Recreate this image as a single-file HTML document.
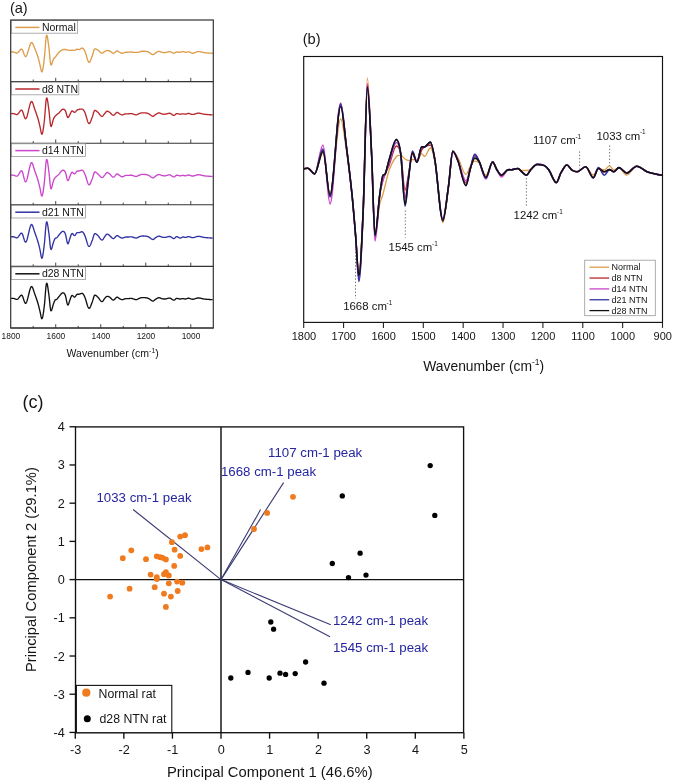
<!DOCTYPE html>
<html><head><meta charset="utf-8"><style>
html,body{margin:0;padding:0;background:#fff;}
body{width:675px;height:783px;overflow:hidden;font-family:"Liberation Sans",sans-serif;}
svg{display:block;will-change:transform;}
</style></head><body>
<svg width="675" height="783" viewBox="0 0 675 783" style="font-family:'Liberation Sans',sans-serif">
<rect width="675" height="783" fill="#fff"/>
<text x="9.9" y="12.9" font-size="14.6" fill="#151515">(a)</text>
<path d="M10.87 52.04 11.12 52.03 11.37 52.01 11.62 52 11.87 51.98 12.12 51.97 12.37 51.95 12.62 51.94 12.87 51.94 13.12 51.94 13.37 51.96 13.62 52 13.87 52.05 14.12 52.13 14.37 52.22 14.62 52.32 14.87 52.42 15.12 52.53 15.37 52.63 15.62 52.73 15.87 52.82 16.12 52.9 16.37 52.96 16.62 52.99 16.87 53 17.12 52.96 17.37 52.88 17.62 52.74 17.87 52.56 18.12 52.34 18.37 52.08 18.62 51.8 18.87 51.5 19.12 51.19 19.37 50.88 19.62 50.57 19.87 50.27 20.12 49.98 20.37 49.72 20.62 49.5 20.87 49.31 21.12 49.17 21.37 49.08 21.62 49.08 21.87 49.19 22.12 49.43 22.37 49.8 22.62 50.28 22.87 50.86 23.12 51.51 23.37 52.2 23.62 52.91 23.87 53.62 24.12 54.31 24.37 54.95 24.62 55.51 24.87 55.98 25.12 56.33 25.37 56.54 25.62 56.6 25.87 56.52 26.12 56.3 26.37 55.95 26.62 55.5 26.87 54.95 27.12 54.32 27.37 53.62 27.62 52.86 27.87 52.05 28.12 51.2 28.37 50.33 28.62 49.45 28.87 48.58 29.12 47.72 29.37 46.88 29.62 46.08 29.87 45.33 30.12 44.65 30.37 44.04 30.62 43.51 30.87 43.09 31.12 42.78 31.37 42.59 31.62 42.53 31.87 42.6 32.12 42.78 32.37 43.07 32.62 43.45 32.87 43.91 33.12 44.43 33.37 45 33.62 45.61 33.87 46.23 34.12 46.86 34.37 47.48 34.62 48.09 34.87 48.68 35.12 49.27 35.37 49.87 35.62 50.47 35.87 51.09 36.12 51.73 36.37 52.39 36.62 53.06 36.87 53.75 37.12 54.45 37.37 55.18 37.62 55.94 37.87 56.73 38.12 57.56 38.37 58.45 38.62 59.39 38.87 60.38 39.12 61.39 39.37 62.41 39.62 63.44 39.87 64.47 40.12 65.55 40.37 66.71 40.62 67.92 40.87 69.12 41.12 70.21 41.37 71.08 41.62 71.65 41.87 71.85 42.12 71.64 42.37 71.05 42.62 70.13 42.87 68.92 43.12 67.48 43.37 65.84 43.62 64.05 43.87 62.15 44.12 60.13 44.37 57.89 44.62 55.29 44.87 52.31 45.12 49.06 45.37 45.74 45.62 42.54 45.87 39.69 46.12 37.4 46.37 35.85 46.62 35.12 46.87 35.14 47.12 35.75 47.37 36.79 47.62 38.17 47.87 39.8 48.12 41.61 48.37 43.52 48.62 45.47 48.87 47.47 49.12 49.6 49.37 52.01 49.62 54.68 49.87 57.45 50.12 60.09 50.37 62.33 50.62 63.95 50.87 64.83 51.12 65.07 51.37 64.87 51.62 64.42 51.87 63.81 52.12 63.1 52.37 62.33 52.62 61.53 52.87 60.76 53.12 60.04 53.37 59.43 53.62 58.92 53.87 58.53 54.12 58.23 54.37 57.98 54.62 57.75 54.87 57.52 55.12 57.26 55.37 56.96 55.62 56.65 55.87 56.32 56.12 55.98 56.37 55.65 56.62 55.31 56.87 54.97 57.12 54.62 57.37 54.26 57.62 53.9 57.87 53.54 58.12 53.21 58.37 52.89 58.62 52.6 58.87 52.34 59.12 52.11 59.37 51.9 59.62 51.7 59.87 51.5 60.12 51.32 60.37 51.14 60.62 50.97 60.87 50.8 61.12 50.64 61.37 50.49 61.62 50.35 61.87 50.21 62.12 50.08 62.37 49.95 62.62 49.84 62.87 49.73 63.12 49.63 63.37 49.56 63.62 49.5 63.87 49.47 64.12 49.45 64.37 49.45 64.62 49.46 64.87 49.46 65.12 49.47 65.37 49.48 65.62 49.5 65.87 49.54 66.12 49.6 66.37 49.66 66.62 49.75 66.87 49.83 67.12 49.92 67.37 50 67.62 50.08 67.87 50.15 68.12 50.21 68.37 50.26 68.62 50.31 68.87 50.36 69.12 50.4 69.37 50.42 69.62 50.43 69.87 50.43 70.12 50.42 70.37 50.4 70.62 50.37 70.87 50.35 71.12 50.32 71.37 50.29 71.62 50.27 71.87 50.26 72.12 50.26 72.37 50.26 72.62 50.28 72.87 50.29 73.12 50.31 73.37 50.34 73.62 50.36 73.87 50.38 74.12 50.39 74.37 50.39 74.62 50.37 74.87 50.31 75.12 50.22 75.37 50.09 75.62 49.94 75.87 49.77 76.12 49.61 76.37 49.45 76.62 49.32 76.87 49.23 77.12 49.18 77.37 49.18 77.62 49.24 77.87 49.33 78.12 49.43 78.37 49.53 78.62 49.6 78.87 49.63 79.12 49.61 79.37 49.53 79.62 49.42 79.87 49.27 80.12 49.1 80.37 48.92 80.62 48.74 80.87 48.56 81.12 48.4 81.37 48.26 81.62 48.15 81.87 48.09 82.12 48.07 82.37 48.11 82.62 48.2 82.87 48.34 83.12 48.53 83.37 48.76 83.62 49.05 83.87 49.38 84.12 49.76 84.37 50.18 84.62 50.66 84.87 51.19 85.12 51.79 85.37 52.47 85.62 53.23 85.87 54.04 86.12 54.89 86.37 55.76 86.62 56.64 86.87 57.51 87.12 58.36 87.37 59.17 87.62 59.92 87.87 60.59 88.12 61.18 88.37 61.66 88.62 62.02 88.87 62.24 89.12 62.32 89.37 62.26 89.62 62.06 89.87 61.75 90.12 61.33 90.37 60.83 90.62 60.26 90.87 59.64 91.12 58.98 91.37 58.3 91.62 57.62 91.87 56.94 92.12 56.27 92.37 55.58 92.62 54.83 92.87 54 93.12 53.1 93.37 52.18 93.62 51.29 93.87 50.48 94.12 49.8 94.37 49.3 94.62 49 94.87 48.87 95.12 48.85 95.37 48.89 95.62 48.95 95.87 49.03 96.12 49.12 96.37 49.23 96.62 49.35 96.87 49.48 97.12 49.61 97.37 49.75 97.62 49.9 97.87 50.06 98.12 50.24 98.37 50.43 98.62 50.64 98.87 50.86 99.12 51.09 99.37 51.33 99.62 51.57 99.87 51.81 100.12 52.03 100.37 52.25 100.62 52.45 100.87 52.63 101.12 52.79 101.37 52.92 101.62 53.01 101.87 53.07 102.12 53.09 102.37 53.06 102.62 52.97 102.87 52.84 103.12 52.68 103.37 52.49 103.62 52.28 103.87 52.08 104.12 51.88 104.37 51.7 104.62 51.54 104.87 51.4 105.12 51.26 105.37 51.14 105.62 51.01 105.87 50.9 106.12 50.79 106.37 50.71 106.62 50.64 106.87 50.59 107.12 50.57 107.37 50.56 107.62 50.57 107.87 50.57 108.12 50.59 108.37 50.61 108.62 50.64 108.87 50.69 109.12 50.75 109.37 50.82 109.62 50.92 109.87 51.04 110.12 51.19 110.37 51.36 110.62 51.55 110.87 51.75 111.12 51.96 111.37 52.17 111.62 52.37 111.87 52.57 112.12 52.75 112.37 52.92 112.62 53.05 112.87 53.16 113.12 53.22 113.37 53.24 113.62 53.22 113.87 53.14 114.12 53.02 114.37 52.87 114.62 52.68 114.87 52.47 115.12 52.25 115.37 52.02 115.62 51.79 115.87 51.58 116.12 51.39 116.37 51.22 116.62 51.09 116.87 51 117.12 50.97 117.37 50.98 117.62 51.04 117.87 51.15 118.12 51.28 118.37 51.44 118.62 51.61 118.87 51.79 119.12 51.96 119.37 52.12 119.62 52.26 119.87 52.39 120.12 52.52 120.37 52.65 120.62 52.78 120.87 52.9 121.12 53.01 121.37 53.11 121.62 53.18 121.87 53.23 122.12 53.26 122.37 53.25 122.62 53.23 122.87 53.18 123.12 53.11 123.37 53.03 123.62 52.94 123.87 52.84 124.12 52.74 124.37 52.64 124.62 52.54 124.87 52.46 125.12 52.38 125.37 52.32 125.62 52.27 125.87 52.24 126.12 52.22 126.37 52.21 126.62 52.21 126.87 52.21 127.12 52.22 127.37 52.22 127.62 52.22 127.87 52.22 128.12 52.21 128.37 52.2 128.62 52.18 128.87 52.16 129.12 52.14 129.37 52.11 129.62 52.09 129.87 52.07 130.12 52.05 130.37 52.03 130.62 52.01 130.87 52 131.12 52 131.37 52 131.62 52.01 131.87 52.04 132.12 52.08 132.37 52.13 132.62 52.19 132.87 52.24 133.12 52.29 133.37 52.33 133.62 52.35 133.87 52.37 134.12 52.37 134.37 52.37 134.62 52.37 134.87 52.37 135.12 52.37 135.37 52.37 135.62 52.37 135.87 52.37 136.12 52.37 136.37 52.37 136.62 52.37 136.87 52.36 137.12 52.35 137.37 52.33 137.62 52.31 137.87 52.29 138.12 52.26 138.37 52.22 138.62 52.18 138.87 52.13 139.12 52.07 139.37 52 139.62 51.92 139.87 51.83 140.12 51.74 140.37 51.64 140.62 51.55 140.87 51.46 141.12 51.39 141.37 51.32 141.62 51.26 141.87 51.23 142.12 51.21 142.37 51.2 142.62 51.2 142.87 51.2 143.12 51.2 143.37 51.2 143.62 51.21 143.87 51.22 144.12 51.22 144.37 51.24 144.62 51.25 144.87 51.26 145.12 51.28 145.37 51.31 145.62 51.33 145.87 51.36 146.12 51.4 146.37 51.44 146.62 51.48 146.87 51.54 147.12 51.6 147.37 51.68 147.62 51.76 147.87 51.85 148.12 51.94 148.37 52.05 148.62 52.16 148.87 52.28 149.12 52.42 149.37 52.57 149.62 52.73 149.87 52.91 150.12 53.1 150.37 53.29 150.62 53.48 150.87 53.67 151.12 53.86 151.37 54.03 151.62 54.19 151.87 54.34 152.12 54.46 152.37 54.56 152.62 54.63 152.87 54.67 153.12 54.67 153.37 54.61 153.62 54.5 153.87 54.34 154.12 54.15 154.37 53.93 154.62 53.7 154.87 53.47 155.12 53.24 155.37 53.04 155.62 52.86 155.87 52.7 156.12 52.55 156.37 52.4 156.62 52.24 156.87 52.1 157.12 51.95 157.37 51.82 157.62 51.7 157.87 51.59 158.12 51.49 158.37 51.42 158.62 51.37 158.87 51.34 159.12 51.34 159.37 51.36 159.62 51.42 159.87 51.49 160.12 51.58 160.37 51.69 160.62 51.8 160.87 51.91 161.12 52.02 161.37 52.12 161.62 52.21 161.87 52.28 162.12 52.34 162.37 52.39 162.62 52.44 162.87 52.48 163.12 52.51 163.37 52.54 163.62 52.57 163.87 52.59 164.12 52.6 164.37 52.61 164.62 52.62 164.87 52.61 165.12 52.6 165.37 52.57 165.62 52.54 165.87 52.49 166.12 52.43 166.37 52.37 166.62 52.3 166.87 52.23 167.12 52.15 167.37 52.08 167.62 52 167.87 51.93 168.12 51.87 168.37 51.81 168.62 51.75 168.87 51.71 169.12 51.68 169.37 51.66 169.62 51.66 169.87 51.68 170.12 51.72 170.37 51.79 170.62 51.88 170.87 51.99 171.12 52.11 171.37 52.24 171.62 52.37 171.87 52.51 172.12 52.64 172.37 52.77 172.62 52.89 172.87 53 173.12 53.09 173.37 53.16 173.62 53.2 173.87 53.21 174.12 53.19 174.37 53.12 174.62 53.02 174.87 52.88 175.12 52.74 175.37 52.58 175.62 52.42 175.87 52.28 176.12 52.15 176.37 52.06 176.62 52.01 176.87 51.98 177.12 51.99 177.37 52 177.62 52.02 177.87 52.05 178.12 52.08 178.37 52.11 178.62 52.15 178.87 52.18 179.12 52.21 179.37 52.23 179.62 52.25 179.87 52.26 180.12 52.26 180.37 52.24 180.62 52.2 180.87 52.14 181.12 52.06 181.37 51.96 181.62 51.86 181.87 51.77 182.12 51.68 182.37 51.6 182.62 51.55 182.87 51.52 183.12 51.52 183.37 51.56 183.62 51.63 183.87 51.72 184.12 51.83 184.37 51.95 184.62 52.06 184.87 52.15 185.12 52.21 185.37 52.25 185.62 52.26 185.87 52.24 186.12 52.2 186.37 52.16 186.62 52.1 186.87 52.05 187.12 51.99 187.37 51.94 187.62 51.89 187.87 51.85 188.12 51.83 188.37 51.83 188.62 51.85 188.87 51.89 189.12 51.96 189.37 52.04 189.62 52.13 189.87 52.24 190.12 52.36 190.37 52.48 190.62 52.6 190.87 52.72 191.12 52.83 191.37 52.94 191.62 53.03 191.87 53.11 192.12 53.17 192.37 53.21 192.62 53.23 192.87 53.22 193.12 53.2 193.37 53.16 193.62 53.1 193.87 53.04 194.12 52.96 194.37 52.87 194.62 52.77 194.87 52.67 195.12 52.57 195.37 52.46 195.62 52.35 195.87 52.24 196.12 52.13 196.37 52.03 196.62 51.93 196.87 51.84 197.12 51.76 197.37 51.7 197.62 51.64 197.87 51.59 198.12 51.57 198.37 51.55 198.62 51.55 198.87 51.57 199.12 51.59 199.37 51.61 199.62 51.65 199.87 51.69 200.12 51.73 200.37 51.78 200.62 51.83 200.87 51.89 201.12 51.95 201.37 52.01 201.62 52.07 201.87 52.14 202.12 52.2 202.37 52.26 202.62 52.32 202.87 52.38 203.12 52.44 203.37 52.49 203.62 52.54 203.87 52.58 204.12 52.62 204.37 52.65 204.62 52.69 204.87 52.72 205.12 52.74 205.37 52.77 205.62 52.8 205.87 52.82 206.12 52.84 206.37 52.87 206.62 52.89 206.87 52.91 207.12 52.93 207.37 52.94 207.62 52.96 207.87 52.98 208.12 53 208.37 53.02 208.62 53.03 208.87 53.05 209.12 53.07 209.37 53.09 209.62 53.11 209.87 53.13 210.12 53.14 210.37 53.16 210.62 53.18 210.87 53.19 211.12 53.21 211.37 53.22 211.62 53.24 211.87 53.25 212.12 53.26 212.37 53.28 212.62 53.29" fill="none" stroke="#DD9D4A" stroke-width="1.35" stroke-linejoin="round"/>
<line x1="33.21" y1="81.6" x2="33.21" y2="79.5" stroke="#333" stroke-width="0.9"/>
<line x1="55.72" y1="81.6" x2="55.72" y2="77.8" stroke="#333" stroke-width="0.9"/>
<line x1="78.23" y1="81.6" x2="78.23" y2="79.5" stroke="#333" stroke-width="0.9"/>
<line x1="100.74" y1="81.6" x2="100.74" y2="77.8" stroke="#333" stroke-width="0.9"/>
<line x1="123.25" y1="81.6" x2="123.25" y2="79.5" stroke="#333" stroke-width="0.9"/>
<line x1="145.76" y1="81.6" x2="145.76" y2="77.8" stroke="#333" stroke-width="0.9"/>
<line x1="168.27" y1="81.6" x2="168.27" y2="79.5" stroke="#333" stroke-width="0.9"/>
<line x1="190.78" y1="81.6" x2="190.78" y2="77.8" stroke="#333" stroke-width="0.9"/>
<rect x="11.2" y="20.6" width="66.4" height="12.6" fill="#fff" stroke="#999" stroke-width="0.8"/>
<line x1="15.3" y1="27.4" x2="39.5" y2="27.4" stroke="#DD9D4A" stroke-width="1.5"/>
<text x="41.9" y="31" font-size="10.5" fill="#151515">Normal</text>
<line x1="10.7" y1="81.6" x2="213.3" y2="81.6" stroke="#333" stroke-width="1.1"/>
<path d="M10.87 113.64 11.12 113.63 11.37 113.61 11.62 113.6 11.87 113.58 12.12 113.57 12.37 113.55 12.62 113.54 12.87 113.54 13.12 113.54 13.37 113.56 13.62 113.6 13.87 113.65 14.12 113.73 14.37 113.82 14.62 113.92 14.87 114.02 15.12 114.13 15.37 114.23 15.62 114.33 15.87 114.42 16.12 114.5 16.37 114.56 16.62 114.59 16.87 114.6 17.12 114.55 17.37 114.46 17.62 114.3 17.87 114.09 18.12 113.84 18.37 113.55 18.62 113.23 18.87 112.88 19.12 112.53 19.37 112.17 19.62 111.81 19.87 111.47 20.12 111.15 20.37 110.85 20.62 110.59 20.87 110.37 21.12 110.21 21.37 110.12 21.62 110.11 21.87 110.24 22.12 110.51 22.37 110.94 22.62 111.49 22.87 112.16 23.12 112.9 23.37 113.7 23.62 114.52 23.87 115.34 24.12 116.13 24.37 116.86 24.62 117.51 24.87 118.05 25.12 118.45 25.37 118.69 25.62 118.76 25.87 118.65 26.12 118.38 26.37 117.96 26.62 117.4 26.87 116.73 27.12 115.95 27.37 115.09 27.62 114.15 27.87 113.15 28.12 112.11 28.37 111.05 28.62 109.97 28.87 108.89 29.12 107.83 29.37 106.8 29.62 105.82 29.87 104.9 30.12 104.05 30.37 103.3 30.62 102.66 30.87 102.14 31.12 101.76 31.37 101.53 31.62 101.46 31.87 101.56 32.12 101.81 32.37 102.22 32.62 102.74 32.87 103.37 33.12 104.07 33.37 104.84 33.62 105.64 33.87 106.45 34.12 107.26 34.37 108.05 34.62 108.8 34.87 109.51 35.12 110.2 35.37 110.89 35.62 111.58 35.87 112.27 36.12 112.98 36.37 113.69 36.62 114.42 36.87 115.16 37.12 115.92 37.37 116.69 37.62 117.49 37.87 118.31 38.12 119.17 38.37 120.06 38.62 121 38.87 121.97 39.12 122.97 39.37 123.98 39.62 125.01 39.87 126.08 40.12 127.21 40.37 128.46 40.62 129.79 40.87 131.12 41.12 132.33 41.37 133.32 41.62 133.97 41.87 134.2 42.12 134.02 42.37 133.46 42.62 132.56 42.87 131.38 43.12 129.97 43.37 128.37 43.62 126.61 43.87 124.75 44.12 122.76 44.37 120.54 44.62 117.96 44.87 115 45.12 111.77 45.37 108.45 45.62 105.27 45.87 102.43 46.12 100.15 46.37 98.61 46.62 97.87 46.87 97.89 47.12 98.49 47.37 99.51 47.62 100.87 47.87 102.46 48.12 104.23 48.37 106.09 48.62 107.98 48.87 109.91 49.12 111.95 49.37 114.23 49.62 116.75 49.87 119.36 50.12 121.83 50.37 123.93 50.62 125.44 50.87 126.25 51.12 126.43 51.37 126.16 51.62 125.6 51.87 124.85 52.12 123.97 52.37 123 52.62 122.01 52.87 121.04 53.12 120.14 53.37 119.35 53.62 118.68 53.87 118.12 54.12 117.66 54.37 117.25 54.62 116.89 54.87 116.56 55.12 116.24 55.37 115.93 55.62 115.65 55.87 115.39 56.12 115.15 56.37 114.92 56.62 114.7 56.87 114.49 57.12 114.29 57.37 114.1 57.62 113.91 57.87 113.72 58.12 113.54 58.37 113.35 58.62 113.15 58.87 112.94 59.12 112.71 59.37 112.47 59.62 112.2 59.87 111.92 60.12 111.62 60.37 111.33 60.62 111.03 60.87 110.74 61.12 110.46 61.37 110.2 61.62 109.96 61.87 109.75 62.12 109.57 62.37 109.43 62.62 109.33 62.87 109.28 63.12 109.26 63.37 109.27 63.62 109.3 63.87 109.36 64.12 109.45 64.37 109.59 64.62 109.78 64.87 110.02 65.12 110.35 65.37 110.77 65.62 111.32 65.87 112.02 66.12 112.84 66.37 113.75 66.62 114.67 66.87 115.55 67.12 116.34 67.37 116.96 67.62 117.38 67.87 117.56 68.12 117.53 68.37 117.32 68.62 116.98 68.87 116.56 69.12 116.09 69.37 115.61 69.62 115.14 69.87 114.65 70.12 114.13 70.37 113.57 70.62 112.99 70.87 112.43 71.12 111.92 71.37 111.48 71.62 111.15 71.87 110.94 72.12 110.87 72.37 110.92 72.62 111.04 72.87 111.21 73.12 111.42 73.37 111.64 73.62 111.85 73.87 112.04 74.12 112.18 74.37 112.26 74.62 112.27 74.87 112.2 75.12 112.07 75.37 111.89 75.62 111.66 75.87 111.4 76.12 111.12 76.37 110.84 76.62 110.58 76.87 110.33 77.12 110.12 77.37 109.95 77.62 109.81 77.87 109.7 78.12 109.61 78.37 109.54 78.62 109.47 78.87 109.42 79.12 109.37 79.37 109.32 79.62 109.28 79.87 109.24 80.12 109.2 80.37 109.17 80.62 109.14 80.87 109.11 81.12 109.09 81.37 109.08 81.62 109.07 81.87 109.06 82.12 109.08 82.37 109.14 82.62 109.25 82.87 109.41 83.12 109.62 83.37 109.89 83.62 110.21 83.87 110.57 84.12 110.98 84.37 111.43 84.62 111.92 84.87 112.46 85.12 113.07 85.37 113.76 85.62 114.52 85.87 115.33 86.12 116.19 86.37 117.06 86.62 117.94 86.87 118.81 87.12 119.66 87.37 120.47 87.62 121.22 87.87 121.89 88.12 122.48 88.37 122.95 88.62 123.31 88.87 123.53 89.12 123.61 89.37 123.55 89.62 123.35 89.87 123.03 90.12 122.61 90.37 122.1 90.62 121.53 90.87 120.9 91.12 120.24 91.37 119.55 91.62 118.86 91.87 118.18 92.12 117.52 92.37 116.84 92.62 116.1 92.87 115.3 93.12 114.42 93.37 113.53 93.62 112.67 93.87 111.88 94.12 111.23 94.37 110.74 94.62 110.46 94.87 110.35 95.12 110.35 95.37 110.43 95.62 110.54 95.87 110.68 96.12 110.85 96.37 111.04 96.62 111.24 96.87 111.45 97.12 111.67 97.37 111.89 97.62 112.11 97.87 112.33 98.12 112.58 98.37 112.84 98.62 113.12 98.87 113.42 99.12 113.73 99.37 114.05 99.62 114.36 99.87 114.67 100.12 114.97 100.37 115.25 100.62 115.51 100.87 115.75 101.12 115.95 101.37 116.12 101.62 116.24 101.87 116.32 102.12 116.33 102.37 116.27 102.62 116.13 102.87 115.92 103.12 115.65 103.37 115.33 103.62 114.98 103.87 114.63 104.12 114.28 104.37 113.95 104.62 113.64 104.87 113.34 105.12 113.04 105.37 112.73 105.62 112.41 105.87 112.11 106.12 111.83 106.37 111.59 106.62 111.41 106.87 111.28 107.12 111.22 107.37 111.22 107.62 111.25 107.87 111.32 108.12 111.42 108.37 111.53 108.62 111.66 108.87 111.8 109.12 111.96 109.37 112.12 109.62 112.29 109.87 112.47 110.12 112.68 110.37 112.91 110.62 113.15 110.87 113.41 111.12 113.68 111.37 113.94 111.62 114.2 111.87 114.44 112.12 114.67 112.37 114.86 112.62 115.03 112.87 115.15 113.12 115.23 113.37 115.26 113.62 115.23 113.87 115.13 114.12 114.98 114.37 114.78 114.62 114.54 114.87 114.27 115.12 113.99 115.37 113.7 115.62 113.42 115.87 113.15 116.12 112.9 116.37 112.69 116.62 112.52 116.87 112.41 117.12 112.36 117.37 112.38 117.62 112.45 117.87 112.58 118.12 112.73 118.37 112.92 118.62 113.12 118.87 113.32 119.12 113.52 119.37 113.69 119.62 113.85 119.87 113.99 120.12 114.13 120.37 114.26 120.62 114.39 120.87 114.51 121.12 114.62 121.37 114.72 121.62 114.79 121.87 114.84 122.12 114.86 122.37 114.86 122.62 114.83 122.87 114.78 123.12 114.71 123.37 114.63 123.62 114.54 123.87 114.44 124.12 114.34 124.37 114.24 124.62 114.14 124.87 114.06 125.12 113.98 125.37 113.92 125.62 113.87 125.87 113.84 126.12 113.82 126.37 113.81 126.62 113.81 126.87 113.81 127.12 113.82 127.37 113.82 127.62 113.82 127.87 113.82 128.12 113.81 128.37 113.8 128.62 113.78 128.87 113.76 129.12 113.74 129.37 113.71 129.62 113.69 129.87 113.67 130.12 113.65 130.37 113.63 130.62 113.61 130.87 113.6 131.12 113.6 131.37 113.6 131.62 113.62 131.87 113.66 132.12 113.72 132.37 113.79 132.62 113.87 132.87 113.97 133.12 114.06 133.37 114.15 133.62 114.23 133.87 114.31 134.12 114.39 134.37 114.46 134.62 114.54 134.87 114.62 135.12 114.69 135.37 114.76 135.62 114.81 135.87 114.85 136.12 114.86 136.37 114.85 136.62 114.8 136.87 114.73 137.12 114.62 137.37 114.5 137.62 114.37 137.87 114.23 138.12 114.09 138.37 113.96 138.62 113.85 138.87 113.74 139.12 113.64 139.37 113.55 139.62 113.46 139.87 113.36 140.12 113.27 140.37 113.18 140.62 113.09 140.87 113.02 141.12 112.95 141.37 112.89 141.62 112.85 141.87 112.82 142.12 112.8 142.37 112.8 142.62 112.8 142.87 112.8 143.12 112.8 143.37 112.8 143.62 112.81 143.87 112.82 144.12 112.82 144.37 112.84 144.62 112.85 144.87 112.86 145.12 112.88 145.37 112.91 145.62 112.93 145.87 112.96 146.12 113 146.37 113.04 146.62 113.08 146.87 113.14 147.12 113.2 147.37 113.28 147.62 113.36 147.87 113.45 148.12 113.54 148.37 113.65 148.62 113.76 148.87 113.88 149.12 114.02 149.37 114.17 149.62 114.33 149.87 114.51 150.12 114.7 150.37 114.89 150.62 115.08 150.87 115.27 151.12 115.46 151.37 115.63 151.62 115.79 151.87 115.94 152.12 116.06 152.37 116.16 152.62 116.23 152.87 116.27 153.12 116.27 153.37 116.21 153.62 116.1 153.87 115.94 154.12 115.75 154.37 115.53 154.62 115.3 154.87 115.07 155.12 114.84 155.37 114.64 155.62 114.46 155.87 114.3 156.12 114.15 156.37 114 156.62 113.84 156.87 113.7 157.12 113.55 157.37 113.42 157.62 113.3 157.87 113.19 158.12 113.09 158.37 113.02 158.62 112.97 158.87 112.94 159.12 112.94 159.37 112.96 159.62 113.02 159.87 113.09 160.12 113.18 160.37 113.29 160.62 113.4 160.87 113.51 161.12 113.62 161.37 113.72 161.62 113.81 161.87 113.88 162.12 113.94 162.37 113.99 162.62 114.04 162.87 114.08 163.12 114.11 163.37 114.14 163.62 114.17 163.87 114.19 164.12 114.2 164.37 114.21 164.62 114.22 164.87 114.21 165.12 114.2 165.37 114.17 165.62 114.14 165.87 114.09 166.12 114.03 166.37 113.97 166.62 113.9 166.87 113.83 167.12 113.75 167.37 113.68 167.62 113.6 167.87 113.53 168.12 113.47 168.37 113.41 168.62 113.35 168.87 113.31 169.12 113.28 169.37 113.26 169.62 113.26 169.87 113.29 170.12 113.35 170.37 113.44 170.62 113.56 170.87 113.7 171.12 113.86 171.37 114.04 171.62 114.22 171.87 114.4 172.12 114.58 172.37 114.76 172.62 114.92 172.87 115.06 173.12 115.18 173.37 115.27 173.62 115.33 173.87 115.34 174.12 115.3 174.37 115.21 174.62 115.06 174.87 114.87 175.12 114.66 175.37 114.44 175.62 114.21 175.87 114.01 176.12 113.83 176.37 113.7 176.62 113.62 176.87 113.6 177.12 113.6 177.37 113.63 177.62 113.68 177.87 113.74 178.12 113.8 178.37 113.87 178.62 113.94 178.87 114.01 179.12 114.07 179.37 114.13 179.62 114.17 179.87 114.2 180.12 114.21 180.37 114.21 180.62 114.18 180.87 114.15 181.12 114.11 181.37 114.06 181.62 114 181.87 113.95 182.12 113.9 182.37 113.86 182.62 113.83 182.87 113.82 183.12 113.82 183.37 113.84 183.62 113.88 183.87 113.93 184.12 113.99 184.37 114.05 184.62 114.11 184.87 114.16 185.12 114.19 185.37 114.2 185.62 114.19 185.87 114.16 186.12 114.09 186.37 114.01 186.62 113.92 186.87 113.82 187.12 113.72 187.37 113.63 187.62 113.55 187.87 113.48 188.12 113.44 188.37 113.43 188.62 113.44 188.87 113.47 189.12 113.52 189.37 113.58 189.62 113.65 189.87 113.73 190.12 113.81 190.37 113.9 190.62 113.99 190.87 114.07 191.12 114.16 191.37 114.23 191.62 114.3 191.87 114.36 192.12 114.4 192.37 114.43 192.62 114.44 192.87 114.44 193.12 114.42 193.37 114.39 193.62 114.35 193.87 114.3 194.12 114.24 194.37 114.17 194.62 114.09 194.87 114.02 195.12 113.93 195.37 113.85 195.62 113.77 195.87 113.68 196.12 113.6 196.37 113.52 196.62 113.45 196.87 113.38 197.12 113.31 197.37 113.26 197.62 113.22 197.87 113.18 198.12 113.16 198.37 113.15 198.62 113.15 198.87 113.17 199.12 113.19 199.37 113.21 199.62 113.25 199.87 113.29 200.12 113.33 200.37 113.38 200.62 113.43 200.87 113.49 201.12 113.55 201.37 113.61 201.62 113.67 201.87 113.74 202.12 113.8 202.37 113.86 202.62 113.92 202.87 113.98 203.12 114.04 203.37 114.09 203.62 114.14 203.87 114.18 204.12 114.22 204.37 114.25 204.62 114.29 204.87 114.32 205.12 114.34 205.37 114.37 205.62 114.4 205.87 114.42 206.12 114.44 206.37 114.47 206.62 114.49 206.87 114.51 207.12 114.53 207.37 114.54 207.62 114.56 207.87 114.58 208.12 114.6 208.37 114.62 208.62 114.63 208.87 114.65 209.12 114.67 209.37 114.69 209.62 114.71 209.87 114.73 210.12 114.74 210.37 114.76 210.62 114.78 210.87 114.79 211.12 114.81 211.37 114.82 211.62 114.84 211.87 114.85 212.12 114.86 212.37 114.88 212.62 114.89" fill="none" stroke="#B8282C" stroke-width="1.35" stroke-linejoin="round"/>
<line x1="33.21" y1="143.2" x2="33.21" y2="141.1" stroke="#333" stroke-width="0.9"/>
<line x1="55.72" y1="143.2" x2="55.72" y2="139.4" stroke="#333" stroke-width="0.9"/>
<line x1="78.23" y1="143.2" x2="78.23" y2="141.1" stroke="#333" stroke-width="0.9"/>
<line x1="100.74" y1="143.2" x2="100.74" y2="139.4" stroke="#333" stroke-width="0.9"/>
<line x1="123.25" y1="143.2" x2="123.25" y2="141.1" stroke="#333" stroke-width="0.9"/>
<line x1="145.76" y1="143.2" x2="145.76" y2="139.4" stroke="#333" stroke-width="0.9"/>
<line x1="168.27" y1="143.2" x2="168.27" y2="141.1" stroke="#333" stroke-width="0.9"/>
<line x1="190.78" y1="143.2" x2="190.78" y2="139.4" stroke="#333" stroke-width="0.9"/>
<rect x="11.2" y="82.2" width="67.6" height="12.6" fill="#fff" stroke="#999" stroke-width="0.8"/>
<line x1="15.3" y1="89" x2="39.5" y2="89" stroke="#B8282C" stroke-width="1.5"/>
<text x="41.9" y="92.6" font-size="10.5" fill="#151515">d8 NTN</text>
<line x1="10.7" y1="143.2" x2="213.3" y2="143.2" stroke="#333" stroke-width="1.1"/>
<path d="M10.87 175.24 11.12 175.23 11.37 175.21 11.62 175.2 11.87 175.18 12.12 175.17 12.37 175.15 12.62 175.14 12.87 175.14 13.12 175.14 13.37 175.16 13.62 175.2 13.87 175.25 14.12 175.33 14.37 175.42 14.62 175.52 14.87 175.62 15.12 175.73 15.37 175.83 15.62 175.93 15.87 176.02 16.12 176.1 16.37 176.16 16.62 176.19 16.87 176.19 17.12 176.14 17.37 176.02 17.62 175.83 17.87 175.58 18.12 175.27 18.37 174.92 18.62 174.53 18.87 174.12 19.12 173.69 19.37 173.26 19.62 172.83 19.87 172.41 20.12 172.02 20.37 171.66 20.62 171.34 20.87 171.08 21.12 170.89 21.37 170.77 21.62 170.77 21.87 170.93 22.12 171.28 22.37 171.83 22.62 172.55 22.87 173.4 23.12 174.35 23.37 175.37 23.62 176.43 23.87 177.48 24.12 178.49 24.37 179.43 24.62 180.27 24.87 180.96 25.12 181.47 25.37 181.79 25.62 181.88 25.87 181.77 26.12 181.47 26.37 181 26.62 180.38 26.87 179.63 27.12 178.77 27.37 177.81 27.62 176.77 27.87 175.67 28.12 174.51 28.37 173.33 28.62 172.13 28.87 170.93 29.12 169.75 29.37 168.61 29.62 167.52 29.87 166.5 30.12 165.57 30.37 164.73 30.62 164.02 30.87 163.44 31.12 163.02 31.37 162.76 31.62 162.68 31.87 162.79 32.12 163.06 32.37 163.48 32.62 164.04 32.87 164.7 33.12 165.45 33.37 166.25 33.62 167.09 33.87 167.95 34.12 168.8 34.37 169.61 34.62 170.38 34.87 171.11 35.12 171.81 35.37 172.51 35.62 173.2 35.87 173.9 36.12 174.6 36.37 175.32 36.62 176.04 36.87 176.78 37.12 177.53 37.37 178.3 37.62 179.09 37.87 179.91 38.12 180.76 38.37 181.66 38.62 182.59 38.87 183.55 39.12 184.55 39.37 185.56 39.62 186.6 39.87 187.68 40.12 188.83 40.37 190.11 40.62 191.49 40.87 192.87 41.12 194.13 41.37 195.16 41.62 195.83 41.87 196.08 42.12 195.89 42.37 195.31 42.62 194.39 42.87 193.17 43.12 191.72 43.37 190.08 43.62 188.29 43.87 186.39 44.12 184.37 44.37 182.14 44.62 179.55 44.87 176.58 45.12 173.35 45.37 170.04 45.62 166.86 45.87 164.02 46.12 161.75 46.37 160.2 46.62 159.47 46.87 159.48 47.12 160.07 47.37 161.08 47.62 162.43 47.87 164.01 48.12 165.77 48.37 167.64 48.62 169.55 48.87 171.5 49.12 173.6 49.37 175.96 49.62 178.6 49.87 181.33 50.12 183.94 50.37 186.15 50.62 187.74 50.87 188.59 51.12 188.77 51.37 188.46 51.62 187.85 51.87 187.03 52.12 186.06 52.37 185 52.62 183.91 52.87 182.85 53.12 181.86 53.37 180.99 53.62 180.26 53.87 179.66 54.12 179.15 54.37 178.71 54.62 178.33 54.87 177.98 55.12 177.65 55.37 177.36 55.62 177.11 55.87 176.89 56.12 176.69 56.37 176.49 56.62 176.29 56.87 176.07 57.12 175.84 57.37 175.61 57.62 175.37 57.87 175.13 58.12 174.89 58.37 174.66 58.62 174.41 58.87 174.17 59.12 173.91 59.37 173.63 59.62 173.34 59.87 173.03 60.12 172.71 60.37 172.39 60.62 172.07 60.87 171.76 61.12 171.46 61.37 171.19 61.62 170.93 61.87 170.71 62.12 170.52 62.37 170.37 62.62 170.26 62.87 170.21 63.12 170.2 63.37 170.23 63.62 170.3 63.87 170.41 64.12 170.57 64.37 170.79 64.62 171.06 64.87 171.4 65.12 171.83 65.37 172.37 65.62 173.05 65.87 173.91 66.12 174.92 66.37 176.01 66.62 177.13 66.87 178.19 67.12 179.14 67.37 179.89 67.62 180.39 67.87 180.6 68.12 180.52 68.37 180.2 68.62 179.71 68.87 179.11 69.12 178.45 69.37 177.8 69.62 177.17 69.87 176.56 70.12 175.94 70.37 175.28 70.62 174.62 70.87 173.98 71.12 173.4 71.37 172.91 71.62 172.54 71.87 172.31 72.12 172.24 72.37 172.29 72.62 172.44 72.87 172.65 73.12 172.89 73.37 173.16 73.62 173.41 73.87 173.63 74.12 173.8 74.37 173.9 74.62 173.89 74.87 173.78 75.12 173.56 75.37 173.26 75.62 172.9 75.87 172.51 76.12 172.13 76.37 171.77 76.62 171.46 76.87 171.24 77.12 171.1 77.37 171.04 77.62 171.02 77.87 171.02 78.12 171.02 78.37 171.02 78.62 171.02 78.87 171.01 79.12 170.98 79.37 170.94 79.62 170.88 79.87 170.79 80.12 170.7 80.37 170.6 80.62 170.49 80.87 170.39 81.12 170.3 81.37 170.22 81.62 170.16 81.87 170.13 82.12 170.14 82.37 170.21 82.62 170.36 82.87 170.57 83.12 170.85 83.37 171.19 83.62 171.58 83.87 172.01 84.12 172.48 84.37 172.97 84.62 173.49 84.87 174.05 85.12 174.67 85.37 175.35 85.62 176.09 85.87 176.88 86.12 177.71 86.37 178.56 86.62 179.41 86.87 180.24 87.12 181.06 87.37 181.83 87.62 182.54 87.87 183.19 88.12 183.75 88.37 184.21 88.62 184.55 88.87 184.76 89.12 184.83 89.37 184.77 89.62 184.59 89.87 184.29 90.12 183.9 90.37 183.43 90.62 182.89 90.87 182.3 91.12 181.68 91.37 181.03 91.62 180.38 91.87 179.74 92.12 179.09 92.37 178.44 92.62 177.72 92.87 176.91 93.12 176.05 93.37 175.15 93.62 174.29 93.87 173.5 94.12 172.84 94.37 172.35 94.62 172.06 94.87 171.95 95.12 171.96 95.37 172.03 95.62 172.15 95.87 172.3 96.12 172.47 96.37 172.66 96.62 172.86 96.87 173.07 97.12 173.29 97.37 173.5 97.62 173.71 97.87 173.92 98.12 174.15 98.37 174.39 98.62 174.65 98.87 174.92 99.12 175.21 99.37 175.49 99.62 175.78 99.87 176.05 100.12 176.32 100.37 176.58 100.62 176.81 100.87 177.03 101.12 177.21 101.37 177.36 101.62 177.47 101.87 177.54 102.12 177.55 102.37 177.51 102.62 177.39 102.87 177.22 103.12 176.99 103.37 176.73 103.62 176.43 103.87 176.13 104.12 175.82 104.37 175.52 104.62 175.23 104.87 174.93 105.12 174.61 105.37 174.27 105.62 173.91 105.87 173.57 106.12 173.24 106.37 172.96 106.62 172.74 106.87 172.59 107.12 172.52 107.37 172.52 107.62 172.57 107.87 172.67 108.12 172.79 108.37 172.94 108.62 173.11 108.87 173.29 109.12 173.48 109.37 173.68 109.62 173.88 109.87 174.09 110.12 174.33 110.37 174.58 110.62 174.86 110.87 175.14 111.12 175.43 111.37 175.72 111.62 176.01 111.87 176.27 112.12 176.52 112.37 176.73 112.62 176.91 112.87 177.05 113.12 177.14 113.37 177.16 113.62 177.13 113.87 177.02 114.12 176.85 114.37 176.63 114.62 176.37 114.87 176.08 115.12 175.77 115.37 175.45 115.62 175.13 115.87 174.83 116.12 174.56 116.37 174.33 116.62 174.14 116.87 174.02 117.12 173.97 117.37 173.98 117.62 174.05 117.87 174.16 118.12 174.32 118.37 174.5 118.62 174.7 118.87 174.9 119.12 175.1 119.37 175.28 119.62 175.46 119.87 175.62 120.12 175.79 120.37 175.96 120.62 176.13 120.87 176.3 121.12 176.45 121.37 176.59 121.62 176.69 121.87 176.76 122.12 176.8 122.37 176.79 122.62 176.75 122.87 176.69 123.12 176.6 123.37 176.49 123.62 176.36 123.87 176.23 124.12 176.1 124.37 175.96 124.62 175.83 124.87 175.72 125.12 175.61 125.37 175.53 125.62 175.47 125.87 175.42 126.12 175.4 126.37 175.39 126.62 175.39 126.87 175.39 127.12 175.4 127.37 175.41 127.62 175.42 127.87 175.42 128.12 175.41 128.37 175.4 128.62 175.38 128.87 175.36 129.12 175.34 129.37 175.31 129.62 175.29 129.87 175.27 130.12 175.25 130.37 175.23 130.62 175.21 130.87 175.2 131.12 175.2 131.37 175.2 131.62 175.22 131.87 175.26 132.12 175.32 132.37 175.39 132.62 175.47 132.87 175.57 133.12 175.66 133.37 175.75 133.62 175.83 133.87 175.91 134.12 175.99 134.37 176.06 134.62 176.14 134.87 176.22 135.12 176.29 135.37 176.36 135.62 176.41 135.87 176.45 136.12 176.46 136.37 176.45 136.62 176.4 136.87 176.33 137.12 176.22 137.37 176.1 137.62 175.97 137.87 175.83 138.12 175.69 138.37 175.56 138.62 175.45 138.87 175.34 139.12 175.24 139.37 175.15 139.62 175.06 139.87 174.96 140.12 174.87 140.37 174.78 140.62 174.69 140.87 174.62 141.12 174.55 141.37 174.49 141.62 174.45 141.87 174.42 142.12 174.4 142.37 174.4 142.62 174.4 142.87 174.4 143.12 174.4 143.37 174.4 143.62 174.41 143.87 174.42 144.12 174.42 144.37 174.44 144.62 174.45 144.87 174.46 145.12 174.48 145.37 174.51 145.62 174.53 145.87 174.56 146.12 174.6 146.37 174.64 146.62 174.68 146.87 174.74 147.12 174.8 147.37 174.88 147.62 174.96 147.87 175.05 148.12 175.14 148.37 175.25 148.62 175.36 148.87 175.48 149.12 175.62 149.37 175.77 149.62 175.93 149.87 176.11 150.12 176.3 150.37 176.49 150.62 176.68 150.87 176.87 151.12 177.06 151.37 177.23 151.62 177.39 151.87 177.54 152.12 177.66 152.37 177.76 152.62 177.83 152.87 177.87 153.12 177.87 153.37 177.81 153.62 177.7 153.87 177.54 154.12 177.35 154.37 177.13 154.62 176.9 154.87 176.67 155.12 176.44 155.37 176.24 155.62 176.06 155.87 175.9 156.12 175.75 156.37 175.6 156.62 175.44 156.87 175.3 157.12 175.15 157.37 175.02 157.62 174.9 157.87 174.79 158.12 174.69 158.37 174.62 158.62 174.57 158.87 174.54 159.12 174.54 159.37 174.56 159.62 174.62 159.87 174.69 160.12 174.78 160.37 174.89 160.62 175 160.87 175.11 161.12 175.22 161.37 175.32 161.62 175.41 161.87 175.48 162.12 175.54 162.37 175.59 162.62 175.64 162.87 175.68 163.12 175.71 163.37 175.74 163.62 175.77 163.87 175.79 164.12 175.8 164.37 175.81 164.62 175.82 164.87 175.81 165.12 175.8 165.37 175.77 165.62 175.74 165.87 175.69 166.12 175.63 166.37 175.57 166.62 175.5 166.87 175.43 167.12 175.35 167.37 175.28 167.62 175.2 167.87 175.13 168.12 175.07 168.37 175.01 168.62 174.95 168.87 174.91 169.12 174.88 169.37 174.86 169.62 174.86 169.87 174.89 170.12 174.95 170.37 175.04 170.62 175.16 170.87 175.3 171.12 175.46 171.37 175.64 171.62 175.82 171.87 176 172.12 176.18 172.37 176.36 172.62 176.52 172.87 176.66 173.12 176.78 173.37 176.87 173.62 176.93 173.87 176.94 174.12 176.9 174.37 176.81 174.62 176.66 174.87 176.47 175.12 176.26 175.37 176.04 175.62 175.81 175.87 175.61 176.12 175.43 176.37 175.3 176.62 175.22 176.87 175.2 177.12 175.2 177.37 175.23 177.62 175.28 177.87 175.34 178.12 175.4 178.37 175.47 178.62 175.54 178.87 175.61 179.12 175.67 179.37 175.73 179.62 175.77 179.87 175.8 180.12 175.81 180.37 175.81 180.62 175.78 180.87 175.75 181.12 175.71 181.37 175.66 181.62 175.6 181.87 175.55 182.12 175.5 182.37 175.46 182.62 175.43 182.87 175.42 183.12 175.42 183.37 175.44 183.62 175.48 183.87 175.53 184.12 175.59 184.37 175.65 184.62 175.71 184.87 175.76 185.12 175.79 185.37 175.8 185.62 175.79 185.87 175.76 186.12 175.69 186.37 175.61 186.62 175.52 186.87 175.42 187.12 175.32 187.37 175.23 187.62 175.15 187.87 175.08 188.12 175.04 188.37 175.03 188.62 175.04 188.87 175.07 189.12 175.12 189.37 175.18 189.62 175.25 189.87 175.33 190.12 175.41 190.37 175.5 190.62 175.59 190.87 175.67 191.12 175.76 191.37 175.83 191.62 175.9 191.87 175.96 192.12 176 192.37 176.03 192.62 176.04 192.87 176.04 193.12 176.02 193.37 175.99 193.62 175.95 193.87 175.9 194.12 175.84 194.37 175.77 194.62 175.69 194.87 175.62 195.12 175.53 195.37 175.45 195.62 175.37 195.87 175.28 196.12 175.2 196.37 175.12 196.62 175.05 196.87 174.98 197.12 174.91 197.37 174.86 197.62 174.82 197.87 174.78 198.12 174.76 198.37 174.75 198.62 174.75 198.87 174.77 199.12 174.79 199.37 174.81 199.62 174.85 199.87 174.89 200.12 174.93 200.37 174.98 200.62 175.03 200.87 175.09 201.12 175.15 201.37 175.21 201.62 175.27 201.87 175.34 202.12 175.4 202.37 175.46 202.62 175.52 202.87 175.58 203.12 175.64 203.37 175.69 203.62 175.74 203.87 175.78 204.12 175.82 204.37 175.85 204.62 175.89 204.87 175.92 205.12 175.94 205.37 175.97 205.62 176 205.87 176.02 206.12 176.04 206.37 176.07 206.62 176.09 206.87 176.11 207.12 176.13 207.37 176.14 207.62 176.16 207.87 176.18 208.12 176.2 208.37 176.22 208.62 176.23 208.87 176.25 209.12 176.27 209.37 176.29 209.62 176.31 209.87 176.33 210.12 176.34 210.37 176.36 210.62 176.38 210.87 176.39 211.12 176.41 211.37 176.42 211.62 176.44 211.87 176.45 212.12 176.46 212.37 176.48 212.62 176.49" fill="none" stroke="#CC46CC" stroke-width="1.35" stroke-linejoin="round"/>
<line x1="33.21" y1="204.8" x2="33.21" y2="202.7" stroke="#333" stroke-width="0.9"/>
<line x1="55.72" y1="204.8" x2="55.72" y2="201" stroke="#333" stroke-width="0.9"/>
<line x1="78.23" y1="204.8" x2="78.23" y2="202.7" stroke="#333" stroke-width="0.9"/>
<line x1="100.74" y1="204.8" x2="100.74" y2="201" stroke="#333" stroke-width="0.9"/>
<line x1="123.25" y1="204.8" x2="123.25" y2="202.7" stroke="#333" stroke-width="0.9"/>
<line x1="145.76" y1="204.8" x2="145.76" y2="201" stroke="#333" stroke-width="0.9"/>
<line x1="168.27" y1="204.8" x2="168.27" y2="202.7" stroke="#333" stroke-width="0.9"/>
<line x1="190.78" y1="204.8" x2="190.78" y2="201" stroke="#333" stroke-width="0.9"/>
<rect x="11.2" y="143.8" width="74.3" height="12.6" fill="#fff" stroke="#999" stroke-width="0.8"/>
<line x1="15.3" y1="150.6" x2="39.5" y2="150.6" stroke="#CC46CC" stroke-width="1.5"/>
<text x="41.9" y="154.2" font-size="10.5" fill="#151515">d14 NTN</text>
<line x1="10.7" y1="204.8" x2="213.3" y2="204.8" stroke="#333" stroke-width="1.1"/>
<path d="M10.87 236.84 11.12 236.83 11.37 236.81 11.62 236.8 11.87 236.78 12.12 236.77 12.37 236.75 12.62 236.74 12.87 236.74 13.12 236.74 13.37 236.76 13.62 236.8 13.87 236.85 14.12 236.93 14.37 237.02 14.62 237.12 14.87 237.22 15.12 237.33 15.37 237.43 15.62 237.53 15.87 237.62 16.12 237.7 16.37 237.76 16.62 237.79 16.87 237.8 17.12 237.75 17.37 237.65 17.62 237.49 17.87 237.27 18.12 237 18.37 236.7 18.62 236.37 18.87 236.01 19.12 235.64 19.37 235.27 19.62 234.9 19.87 234.54 20.12 234.2 20.37 233.89 20.62 233.62 20.87 233.4 21.12 233.23 21.37 233.13 21.62 233.12 21.87 233.25 22.12 233.54 22.37 233.98 22.62 234.57 22.87 235.26 23.12 236.04 23.37 236.87 23.62 237.72 23.87 238.58 24.12 239.4 24.37 240.17 24.62 240.85 24.87 241.41 25.12 241.83 25.37 242.08 25.62 242.15 25.87 242.04 26.12 241.76 26.37 241.33 26.62 240.76 26.87 240.07 27.12 239.28 27.37 238.4 27.62 237.44 27.87 236.42 28.12 235.36 28.37 234.27 28.62 233.16 28.87 232.06 29.12 230.98 29.37 229.92 29.62 228.92 29.87 227.98 30.12 227.12 30.37 226.35 30.62 225.7 30.87 225.17 31.12 224.77 31.37 224.54 31.62 224.47 31.87 224.57 32.12 224.84 32.37 225.25 32.62 225.79 32.87 226.43 33.12 227.16 33.37 227.94 33.62 228.77 33.87 229.6 34.12 230.43 34.37 231.23 34.62 231.99 34.87 232.71 35.12 233.41 35.37 234.1 35.62 234.79 35.87 235.49 36.12 236.19 36.37 236.9 36.62 237.63 36.87 238.37 37.12 239.12 37.37 239.9 37.62 240.69 37.87 241.51 38.12 242.36 38.37 243.24 38.62 244.16 38.87 245.12 39.12 246.11 39.37 247.13 39.62 248.17 39.87 249.28 40.12 250.48 40.37 251.83 40.62 253.29 40.87 254.77 41.12 256.13 41.37 257.23 41.62 257.96 41.87 258.23 42.12 258.03 42.37 257.4 42.62 256.41 42.87 255.12 43.12 253.58 43.37 251.85 43.62 249.99 43.87 248.04 44.12 246 44.37 243.77 44.62 241.23 44.87 238.33 45.12 235.2 45.37 231.99 45.62 228.93 45.87 226.2 46.12 224.01 46.37 222.52 46.62 221.82 46.87 221.82 47.12 222.37 47.37 223.33 47.62 224.6 47.87 226.09 48.12 227.75 48.37 229.51 48.62 231.31 48.87 233.15 49.12 235.13 49.37 237.36 49.62 239.84 49.87 242.42 50.12 244.87 50.37 246.96 50.62 248.46 50.87 249.27 51.12 249.45 51.37 249.2 51.62 248.67 51.87 247.96 52.12 247.12 52.37 246.19 52.62 245.23 52.87 244.27 53.12 243.37 53.37 242.54 53.62 241.8 53.87 241.11 54.12 240.46 54.37 239.86 54.62 239.32 54.87 238.85 55.12 238.48 55.37 238.22 55.62 238.08 55.87 238.02 56.12 237.98 56.37 237.93 56.62 237.82 56.87 237.63 57.12 237.37 57.37 237.07 57.62 236.74 57.87 236.39 58.12 236.05 58.37 235.71 58.62 235.39 58.87 235.1 59.12 234.81 59.37 234.52 59.62 234.23 59.87 233.93 60.12 233.62 60.37 233.32 60.62 233.02 60.87 232.73 61.12 232.45 61.37 232.2 61.62 231.97 61.87 231.77 62.12 231.6 62.37 231.46 62.62 231.37 62.87 231.33 63.12 231.32 63.37 231.37 63.62 231.45 63.87 231.6 64.12 231.79 64.37 232.06 64.62 232.4 64.87 232.81 65.12 233.33 65.37 233.98 65.62 234.8 65.87 235.83 66.12 237.03 66.37 238.34 66.62 239.67 66.87 240.94 67.12 242.07 67.37 242.97 67.62 243.57 67.87 243.8 68.12 243.68 68.37 243.25 68.62 242.6 68.87 241.8 69.12 240.94 69.37 240.1 69.62 239.31 69.87 238.56 70.12 237.81 70.37 237.04 70.62 236.27 70.87 235.52 71.12 234.85 71.37 234.29 71.62 233.86 71.87 233.61 72.12 233.52 72.37 233.59 72.62 233.76 72.87 234.01 73.12 234.3 73.37 234.61 73.62 234.91 73.87 235.17 74.12 235.37 74.37 235.48 74.62 235.49 74.87 235.38 75.12 235.16 75.37 234.86 75.62 234.5 75.87 234.11 76.12 233.73 76.37 233.37 76.62 233.06 76.87 232.84 77.12 232.7 77.37 232.64 77.62 232.62 77.87 232.62 78.12 232.62 78.37 232.62 78.62 232.62 78.87 232.61 79.12 232.58 79.37 232.54 79.62 232.48 79.87 232.39 80.12 232.3 80.37 232.2 80.62 232.09 80.87 231.99 81.12 231.9 81.37 231.82 81.62 231.76 81.87 231.73 82.12 231.74 82.37 231.81 82.62 231.96 82.87 232.17 83.12 232.45 83.37 232.79 83.62 233.18 83.87 233.61 84.12 234.08 84.37 234.57 84.62 235.09 84.87 235.65 85.12 236.27 85.37 236.95 85.62 237.69 85.87 238.48 86.12 239.31 86.37 240.16 86.62 241.01 86.87 241.84 87.12 242.66 87.37 243.43 87.62 244.14 87.87 244.79 88.12 245.35 88.37 245.81 88.62 246.15 88.87 246.36 89.12 246.43 89.37 246.37 89.62 246.19 89.87 245.89 90.12 245.5 90.37 245.03 90.62 244.49 90.87 243.9 91.12 243.28 91.37 242.63 91.62 241.98 91.87 241.34 92.12 240.69 92.37 240.04 92.62 239.32 92.87 238.51 93.12 237.65 93.37 236.75 93.62 235.89 93.87 235.1 94.12 234.44 94.37 233.95 94.62 233.66 94.87 233.55 95.12 233.55 95.37 233.62 95.62 233.73 95.87 233.86 96.12 234.03 96.37 234.21 96.62 234.41 96.87 234.62 97.12 234.85 97.37 235.07 97.62 235.3 97.87 235.55 98.12 235.81 98.37 236.1 98.62 236.42 98.87 236.75 99.12 237.1 99.37 237.45 99.62 237.8 99.87 238.15 100.12 238.48 100.37 238.8 100.62 239.1 100.87 239.36 101.12 239.59 101.37 239.78 101.62 239.92 101.87 240.01 102.12 240.02 102.37 239.95 102.62 239.79 102.87 239.53 103.12 239.21 103.37 238.83 103.62 238.42 103.87 238.01 104.12 237.59 104.37 237.21 104.62 236.85 104.87 236.51 105.12 236.16 105.37 235.81 105.62 235.46 105.87 235.11 106.12 234.8 106.37 234.53 106.62 234.32 106.87 234.18 107.12 234.12 107.37 234.12 107.62 234.18 107.87 234.27 108.12 234.4 108.37 234.55 108.62 234.72 108.87 234.9 109.12 235.09 109.37 235.28 109.62 235.48 109.87 235.68 110.12 235.91 110.37 236.15 110.62 236.41 110.87 236.68 111.12 236.95 111.37 237.22 111.62 237.49 111.87 237.74 112.12 237.97 112.37 238.17 112.62 238.34 112.87 238.47 113.12 238.55 113.37 238.57 113.62 238.54 113.87 238.44 114.12 238.28 114.37 238.07 114.62 237.83 114.87 237.55 115.12 237.26 115.37 236.96 115.62 236.66 115.87 236.38 116.12 236.12 116.37 235.9 116.62 235.73 116.87 235.62 117.12 235.57 117.37 235.58 117.62 235.65 117.87 235.78 118.12 235.93 118.37 236.12 118.62 236.32 118.87 236.52 119.12 236.72 119.37 236.89 119.62 237.05 119.87 237.19 120.12 237.33 120.37 237.46 120.62 237.59 120.87 237.71 121.12 237.82 121.37 237.92 121.62 237.99 121.87 238.04 122.12 238.06 122.37 238.06 122.62 238.03 122.87 237.98 123.12 237.91 123.37 237.83 123.62 237.74 123.87 237.64 124.12 237.54 124.37 237.44 124.62 237.34 124.87 237.26 125.12 237.18 125.37 237.12 125.62 237.07 125.87 237.04 126.12 237.02 126.37 237.01 126.62 237.01 126.87 237.01 127.12 237.02 127.37 237.02 127.62 237.02 127.87 237.02 128.12 237.01 128.37 237 128.62 236.98 128.87 236.96 129.12 236.94 129.37 236.91 129.62 236.89 129.87 236.87 130.12 236.85 130.37 236.83 130.62 236.81 130.87 236.8 131.12 236.8 131.37 236.8 131.62 236.82 131.87 236.86 132.12 236.92 132.37 236.99 132.62 237.07 132.87 237.17 133.12 237.26 133.37 237.35 133.62 237.43 133.87 237.51 134.12 237.59 134.37 237.66 134.62 237.74 134.87 237.82 135.12 237.89 135.37 237.96 135.62 238.01 135.87 238.05 136.12 238.06 136.37 238.05 136.62 238 136.87 237.93 137.12 237.82 137.37 237.7 137.62 237.57 137.87 237.43 138.12 237.29 138.37 237.16 138.62 237.05 138.87 236.94 139.12 236.84 139.37 236.75 139.62 236.66 139.87 236.56 140.12 236.47 140.37 236.38 140.62 236.29 140.87 236.22 141.12 236.15 141.37 236.09 141.62 236.05 141.87 236.02 142.12 236 142.37 236 142.62 236 142.87 236 143.12 236 143.37 236 143.62 236.01 143.87 236.02 144.12 236.02 144.37 236.04 144.62 236.05 144.87 236.06 145.12 236.08 145.37 236.11 145.62 236.13 145.87 236.16 146.12 236.2 146.37 236.24 146.62 236.28 146.87 236.34 147.12 236.4 147.37 236.48 147.62 236.56 147.87 236.65 148.12 236.74 148.37 236.85 148.62 236.96 148.87 237.08 149.12 237.22 149.37 237.37 149.62 237.53 149.87 237.71 150.12 237.9 150.37 238.09 150.62 238.28 150.87 238.47 151.12 238.66 151.37 238.83 151.62 238.99 151.87 239.14 152.12 239.26 152.37 239.36 152.62 239.43 152.87 239.47 153.12 239.47 153.37 239.41 153.62 239.3 153.87 239.14 154.12 238.95 154.37 238.73 154.62 238.5 154.87 238.27 155.12 238.04 155.37 237.84 155.62 237.66 155.87 237.5 156.12 237.35 156.37 237.2 156.62 237.04 156.87 236.9 157.12 236.75 157.37 236.62 157.62 236.5 157.87 236.39 158.12 236.29 158.37 236.22 158.62 236.17 158.87 236.14 159.12 236.14 159.37 236.16 159.62 236.22 159.87 236.29 160.12 236.38 160.37 236.49 160.62 236.6 160.87 236.71 161.12 236.82 161.37 236.92 161.62 237.01 161.87 237.08 162.12 237.14 162.37 237.19 162.62 237.24 162.87 237.28 163.12 237.31 163.37 237.34 163.62 237.37 163.87 237.39 164.12 237.4 164.37 237.41 164.62 237.42 164.87 237.41 165.12 237.4 165.37 237.37 165.62 237.34 165.87 237.29 166.12 237.23 166.37 237.17 166.62 237.1 166.87 237.03 167.12 236.95 167.37 236.88 167.62 236.8 167.87 236.73 168.12 236.67 168.37 236.61 168.62 236.55 168.87 236.51 169.12 236.48 169.37 236.46 169.62 236.46 169.87 236.49 170.12 236.55 170.37 236.64 170.62 236.76 170.87 236.9 171.12 237.06 171.37 237.24 171.62 237.42 171.87 237.6 172.12 237.78 172.37 237.96 172.62 238.12 172.87 238.26 173.12 238.38 173.37 238.47 173.62 238.53 173.87 238.54 174.12 238.5 174.37 238.39 174.62 238.23 174.87 238.02 175.12 237.79 175.37 237.54 175.62 237.3 175.87 237.08 176.12 236.88 176.37 236.74 176.62 236.66 176.87 236.64 177.12 236.67 177.37 236.75 177.62 236.85 177.87 236.99 178.12 237.14 178.37 237.29 178.62 237.46 178.87 237.61 179.12 237.76 179.37 237.88 179.62 237.98 179.87 238.04 180.12 238.07 180.37 238.05 180.62 237.99 180.87 237.91 181.12 237.79 181.37 237.66 181.62 237.53 181.87 237.39 182.12 237.27 182.37 237.16 182.62 237.08 182.87 237.04 183.12 237.02 183.37 237.04 183.62 237.08 183.87 237.13 184.12 237.19 184.37 237.25 184.62 237.31 184.87 237.36 185.12 237.39 185.37 237.4 185.62 237.39 185.87 237.36 186.12 237.29 186.37 237.21 186.62 237.12 186.87 237.02 187.12 236.92 187.37 236.83 187.62 236.75 187.87 236.68 188.12 236.64 188.37 236.63 188.62 236.64 188.87 236.67 189.12 236.72 189.37 236.78 189.62 236.85 189.87 236.93 190.12 237.01 190.37 237.1 190.62 237.19 190.87 237.27 191.12 237.36 191.37 237.43 191.62 237.5 191.87 237.56 192.12 237.6 192.37 237.63 192.62 237.64 192.87 237.64 193.12 237.62 193.37 237.59 193.62 237.55 193.87 237.5 194.12 237.44 194.37 237.37 194.62 237.29 194.87 237.22 195.12 237.13 195.37 237.05 195.62 236.97 195.87 236.88 196.12 236.8 196.37 236.72 196.62 236.65 196.87 236.58 197.12 236.51 197.37 236.46 197.62 236.42 197.87 236.38 198.12 236.36 198.37 236.35 198.62 236.35 198.87 236.37 199.12 236.39 199.37 236.41 199.62 236.45 199.87 236.49 200.12 236.53 200.37 236.58 200.62 236.63 200.87 236.69 201.12 236.75 201.37 236.81 201.62 236.87 201.87 236.94 202.12 237 202.37 237.06 202.62 237.12 202.87 237.18 203.12 237.24 203.37 237.29 203.62 237.34 203.87 237.38 204.12 237.42 204.37 237.45 204.62 237.49 204.87 237.52 205.12 237.54 205.37 237.57 205.62 237.6 205.87 237.62 206.12 237.64 206.37 237.67 206.62 237.69 206.87 237.71 207.12 237.73 207.37 237.74 207.62 237.76 207.87 237.78 208.12 237.8 208.37 237.82 208.62 237.83 208.87 237.85 209.12 237.87 209.37 237.89 209.62 237.91 209.87 237.93 210.12 237.94 210.37 237.96 210.62 237.98 210.87 237.99 211.12 238.01 211.37 238.02 211.62 238.04 211.87 238.05 212.12 238.06 212.37 238.08 212.62 238.09" fill="none" stroke="#3232A2" stroke-width="1.35" stroke-linejoin="round"/>
<line x1="33.21" y1="266.4" x2="33.21" y2="264.3" stroke="#333" stroke-width="0.9"/>
<line x1="55.72" y1="266.4" x2="55.72" y2="262.6" stroke="#333" stroke-width="0.9"/>
<line x1="78.23" y1="266.4" x2="78.23" y2="264.3" stroke="#333" stroke-width="0.9"/>
<line x1="100.74" y1="266.4" x2="100.74" y2="262.6" stroke="#333" stroke-width="0.9"/>
<line x1="123.25" y1="266.4" x2="123.25" y2="264.3" stroke="#333" stroke-width="0.9"/>
<line x1="145.76" y1="266.4" x2="145.76" y2="262.6" stroke="#333" stroke-width="0.9"/>
<line x1="168.27" y1="266.4" x2="168.27" y2="264.3" stroke="#333" stroke-width="0.9"/>
<line x1="190.78" y1="266.4" x2="190.78" y2="262.6" stroke="#333" stroke-width="0.9"/>
<rect x="11.2" y="205.4" width="74.3" height="12.6" fill="#fff" stroke="#999" stroke-width="0.8"/>
<line x1="15.3" y1="212.2" x2="39.5" y2="212.2" stroke="#3232A2" stroke-width="1.5"/>
<text x="41.9" y="215.8" font-size="10.5" fill="#151515">d21 NTN</text>
<line x1="10.7" y1="266.4" x2="213.3" y2="266.4" stroke="#333" stroke-width="1.1"/>
<path d="M10.87 298.44 11.12 298.43 11.37 298.41 11.62 298.4 11.87 298.38 12.12 298.37 12.37 298.35 12.62 298.34 12.87 298.34 13.12 298.34 13.37 298.36 13.62 298.4 13.87 298.45 14.12 298.53 14.37 298.62 14.62 298.72 14.87 298.82 15.12 298.93 15.37 299.03 15.62 299.13 15.87 299.22 16.12 299.3 16.37 299.36 16.62 299.39 16.87 299.4 17.12 299.36 17.37 299.27 17.62 299.12 17.87 298.92 18.12 298.68 18.37 298.41 18.62 298.11 18.87 297.79 19.12 297.45 19.37 297.11 19.62 296.78 19.87 296.46 20.12 296.15 20.37 295.87 20.62 295.63 20.87 295.42 21.12 295.27 21.37 295.18 21.62 295.18 21.87 295.29 22.12 295.55 22.37 295.96 22.62 296.48 22.87 297.11 23.12 297.82 23.37 298.57 23.62 299.35 23.87 300.12 24.12 300.87 24.37 301.56 24.62 302.18 24.87 302.68 25.12 303.07 25.37 303.29 25.62 303.35 25.87 303.25 26.12 302.98 26.37 302.57 26.62 302.03 26.87 301.38 27.12 300.62 27.37 299.78 27.62 298.87 27.87 297.9 28.12 296.89 28.37 295.86 28.62 294.81 28.87 293.76 29.12 292.73 29.37 291.73 29.62 290.78 29.87 289.88 30.12 289.07 30.37 288.34 30.62 287.71 30.87 287.21 31.12 286.84 31.37 286.61 31.62 286.54 31.87 286.64 32.12 286.88 32.37 287.27 32.62 287.77 32.87 288.36 33.12 289.04 33.37 289.77 33.62 290.54 33.87 291.33 34.12 292.12 34.37 292.88 34.62 293.61 34.87 294.31 35.12 294.99 35.37 295.67 35.62 296.36 35.87 297.05 36.12 297.76 36.37 298.48 36.62 299.21 36.87 299.95 37.12 300.71 37.37 301.49 37.62 302.29 37.87 303.11 38.12 303.97 38.37 304.87 38.62 305.81 38.87 306.79 39.12 307.79 39.37 308.8 39.62 309.83 39.87 310.88 40.12 311.99 40.37 313.2 40.62 314.49 40.87 315.77 41.12 316.94 41.37 317.88 41.62 318.5 41.87 318.73 42.12 318.54 42.37 317.99 42.62 317.11 42.87 315.96 43.12 314.58 43.37 313.01 43.62 311.3 43.87 309.48 44.12 307.53 44.37 305.36 44.62 302.84 44.87 299.95 45.12 296.79 45.37 293.55 45.62 290.43 45.87 287.66 46.12 285.43 46.37 283.92 46.62 283.2 46.87 283.2 47.12 283.77 47.37 284.75 47.62 286.05 47.87 287.58 48.12 289.27 48.37 291.06 48.62 292.88 48.87 294.74 49.12 296.72 49.37 298.93 49.62 301.39 49.87 303.94 50.12 306.36 50.37 308.41 50.62 309.89 50.87 310.69 51.12 310.87 51.37 310.62 51.62 310.11 51.87 309.42 52.12 308.6 52.37 307.7 52.62 306.76 52.87 305.82 53.12 304.94 53.37 304.13 53.62 303.4 53.87 302.72 54.12 302.07 54.37 301.47 54.62 300.92 54.87 300.45 55.12 300.08 55.37 299.82 55.62 299.68 55.87 299.62 56.12 299.58 56.37 299.53 56.62 299.42 56.87 299.23 57.12 298.97 57.37 298.67 57.62 298.34 57.87 298 58.12 297.66 58.37 297.32 58.62 297 58.87 296.7 59.12 296.4 59.37 296.11 59.62 295.81 59.87 295.5 60.12 295.18 60.37 294.86 60.62 294.55 60.87 294.25 61.12 293.97 61.37 293.7 61.62 293.46 61.87 293.25 62.12 293.07 62.37 292.94 62.62 292.84 62.87 292.79 63.12 292.8 63.37 292.85 63.62 292.95 63.87 293.11 64.12 293.33 64.37 293.62 64.62 293.98 64.87 294.41 65.12 294.93 65.37 295.57 65.62 296.37 65.87 297.37 66.12 298.53 66.37 299.79 66.62 301.08 66.87 302.3 67.12 303.39 67.37 304.25 67.62 304.82 67.87 305.05 68.12 304.94 68.37 304.55 68.62 303.94 68.87 303.2 69.12 302.41 69.37 301.63 69.62 300.89 69.87 300.19 70.12 299.49 70.37 298.76 70.62 298.03 70.87 297.34 71.12 296.7 71.37 296.17 71.62 295.77 71.87 295.52 72.12 295.44 72.37 295.49 72.62 295.64 72.87 295.85 73.12 296.09 73.37 296.36 73.62 296.61 73.87 296.83 74.12 297 74.37 297.1 74.62 297.09 74.87 296.98 75.12 296.76 75.37 296.46 75.62 296.1 75.87 295.71 76.12 295.33 76.37 294.97 76.62 294.66 76.87 294.44 77.12 294.3 77.37 294.24 77.62 294.22 77.87 294.22 78.12 294.22 78.37 294.22 78.62 294.22 78.87 294.21 79.12 294.18 79.37 294.14 79.62 294.08 79.87 293.99 80.12 293.9 80.37 293.8 80.62 293.69 80.87 293.59 81.12 293.5 81.37 293.42 81.62 293.36 81.87 293.33 82.12 293.34 82.37 293.41 82.62 293.55 82.87 293.76 83.12 294.04 83.37 294.37 83.62 294.76 83.87 295.19 84.12 295.66 84.37 296.16 84.62 296.69 84.87 297.26 85.12 297.89 85.37 298.59 85.62 299.35 85.87 300.17 86.12 301.02 86.37 301.89 86.62 302.76 86.87 303.63 87.12 304.46 87.37 305.26 87.62 306 87.87 306.66 88.12 307.24 88.37 307.71 88.62 308.06 88.87 308.28 89.12 308.36 89.37 308.29 89.62 308.09 89.87 307.78 90.12 307.36 90.37 306.86 90.62 306.29 90.87 305.67 91.12 305.01 91.37 304.33 91.62 303.65 91.87 302.98 92.12 302.31 92.37 301.64 92.62 300.91 92.87 300.1 93.12 299.23 93.37 298.33 93.62 297.47 93.87 296.68 94.12 296.03 94.37 295.54 94.62 295.26 94.87 295.15 95.12 295.15 95.37 295.22 95.62 295.33 95.87 295.46 96.12 295.63 96.37 295.81 96.62 296.01 96.87 296.22 97.12 296.45 97.37 296.67 97.62 296.9 97.87 297.15 98.12 297.41 98.37 297.7 98.62 298.02 98.87 298.35 99.12 298.7 99.37 299.05 99.62 299.4 99.87 299.75 100.12 300.08 100.37 300.4 100.62 300.7 100.87 300.96 101.12 301.19 101.37 301.38 101.62 301.52 101.87 301.61 102.12 301.62 102.37 301.55 102.62 301.37 102.87 301.11 103.12 300.78 103.37 300.39 103.62 299.98 103.87 299.56 104.12 299.15 104.37 298.79 104.62 298.46 104.87 298.16 105.12 297.88 105.37 297.61 105.62 297.35 105.87 297.1 106.12 296.88 106.37 296.7 106.62 296.55 106.87 296.46 107.12 296.41 107.37 296.4 107.62 296.42 107.87 296.45 108.12 296.5 108.37 296.56 108.62 296.64 108.87 296.73 109.12 296.83 109.37 296.96 109.62 297.1 109.87 297.27 110.12 297.46 110.37 297.68 110.62 297.92 110.87 298.18 111.12 298.44 111.37 298.71 111.62 298.97 111.87 299.22 112.12 299.45 112.37 299.65 112.62 299.82 112.87 299.95 113.12 300.03 113.37 300.06 113.62 300.03 113.87 299.93 114.12 299.78 114.37 299.58 114.62 299.34 114.87 299.07 115.12 298.79 115.37 298.5 115.62 298.22 115.87 297.95 116.12 297.7 116.37 297.49 116.62 297.32 116.87 297.21 117.12 297.16 117.37 297.18 117.62 297.25 117.87 297.38 118.12 297.53 118.37 297.72 118.62 297.92 118.87 298.12 119.12 298.32 119.37 298.49 119.62 298.65 119.87 298.79 120.12 298.93 120.37 299.06 120.62 299.19 120.87 299.31 121.12 299.42 121.37 299.52 121.62 299.59 121.87 299.64 122.12 299.66 122.37 299.66 122.62 299.63 122.87 299.58 123.12 299.51 123.37 299.43 123.62 299.34 123.87 299.24 124.12 299.14 124.37 299.04 124.62 298.94 124.87 298.86 125.12 298.78 125.37 298.72 125.62 298.67 125.87 298.64 126.12 298.62 126.37 298.61 126.62 298.61 126.87 298.61 127.12 298.62 127.37 298.62 127.62 298.62 127.87 298.62 128.12 298.61 128.37 298.6 128.62 298.58 128.87 298.56 129.12 298.54 129.37 298.51 129.62 298.49 129.87 298.47 130.12 298.45 130.37 298.43 130.62 298.41 130.87 298.4 131.12 298.4 131.37 298.4 131.62 298.42 131.87 298.46 132.12 298.52 132.37 298.59 132.62 298.67 132.87 298.77 133.12 298.86 133.37 298.95 133.62 299.03 133.87 299.11 134.12 299.19 134.37 299.26 134.62 299.34 134.87 299.42 135.12 299.49 135.37 299.56 135.62 299.61 135.87 299.65 136.12 299.66 136.37 299.65 136.62 299.6 136.87 299.53 137.12 299.42 137.37 299.3 137.62 299.17 137.87 299.03 138.12 298.89 138.37 298.76 138.62 298.65 138.87 298.54 139.12 298.44 139.37 298.35 139.62 298.26 139.87 298.16 140.12 298.07 140.37 297.98 140.62 297.89 140.87 297.82 141.12 297.75 141.37 297.69 141.62 297.65 141.87 297.62 142.12 297.6 142.37 297.6 142.62 297.6 142.87 297.6 143.12 297.6 143.37 297.6 143.62 297.61 143.87 297.62 144.12 297.62 144.37 297.64 144.62 297.65 144.87 297.66 145.12 297.68 145.37 297.71 145.62 297.73 145.87 297.76 146.12 297.8 146.37 297.84 146.62 297.88 146.87 297.94 147.12 298 147.37 298.08 147.62 298.16 147.87 298.25 148.12 298.34 148.37 298.45 148.62 298.56 148.87 298.68 149.12 298.82 149.37 298.97 149.62 299.13 149.87 299.31 150.12 299.5 150.37 299.69 150.62 299.88 150.87 300.07 151.12 300.26 151.37 300.43 151.62 300.59 151.87 300.74 152.12 300.86 152.37 300.96 152.62 301.03 152.87 301.07 153.12 301.07 153.37 301.01 153.62 300.9 153.87 300.74 154.12 300.55 154.37 300.33 154.62 300.1 154.87 299.87 155.12 299.64 155.37 299.44 155.62 299.26 155.87 299.1 156.12 298.95 156.37 298.8 156.62 298.64 156.87 298.5 157.12 298.35 157.37 298.22 157.62 298.1 157.87 297.99 158.12 297.89 158.37 297.82 158.62 297.77 158.87 297.74 159.12 297.74 159.37 297.76 159.62 297.82 159.87 297.89 160.12 297.98 160.37 298.09 160.62 298.2 160.87 298.31 161.12 298.42 161.37 298.52 161.62 298.61 161.87 298.68 162.12 298.74 162.37 298.79 162.62 298.84 162.87 298.88 163.12 298.91 163.37 298.94 163.62 298.97 163.87 298.99 164.12 299 164.37 299.01 164.62 299.02 164.87 299.01 165.12 299 165.37 298.97 165.62 298.94 165.87 298.89 166.12 298.83 166.37 298.77 166.62 298.7 166.87 298.63 167.12 298.55 167.37 298.48 167.62 298.4 167.87 298.33 168.12 298.27 168.37 298.21 168.62 298.15 168.87 298.11 169.12 298.08 169.37 298.06 169.62 298.06 169.87 298.09 170.12 298.15 170.37 298.24 170.62 298.36 170.87 298.5 171.12 298.66 171.37 298.84 171.62 299.02 171.87 299.2 172.12 299.38 172.37 299.56 172.62 299.72 172.87 299.86 173.12 299.98 173.37 300.07 173.62 300.13 173.87 300.14 174.12 300.1 174.37 300.01 174.62 299.86 174.87 299.67 175.12 299.46 175.37 299.24 175.62 299.01 175.87 298.81 176.12 298.63 176.37 298.5 176.62 298.42 176.87 298.4 177.12 298.4 177.37 298.43 177.62 298.48 177.87 298.54 178.12 298.6 178.37 298.67 178.62 298.74 178.87 298.81 179.12 298.87 179.37 298.93 179.62 298.97 179.87 299 180.12 299.01 180.37 299.01 180.62 298.98 180.87 298.95 181.12 298.91 181.37 298.86 181.62 298.8 181.87 298.75 182.12 298.7 182.37 298.66 182.62 298.63 182.87 298.62 183.12 298.62 183.37 298.64 183.62 298.68 183.87 298.73 184.12 298.79 184.37 298.85 184.62 298.91 184.87 298.96 185.12 298.99 185.37 299 185.62 298.99 185.87 298.96 186.12 298.89 186.37 298.81 186.62 298.72 186.87 298.62 187.12 298.52 187.37 298.43 187.62 298.35 187.87 298.28 188.12 298.24 188.37 298.23 188.62 298.24 188.87 298.27 189.12 298.32 189.37 298.38 189.62 298.45 189.87 298.53 190.12 298.61 190.37 298.7 190.62 298.79 190.87 298.87 191.12 298.96 191.37 299.03 191.62 299.1 191.87 299.16 192.12 299.2 192.37 299.23 192.62 299.24 192.87 299.24 193.12 299.22 193.37 299.19 193.62 299.15 193.87 299.1 194.12 299.04 194.37 298.97 194.62 298.89 194.87 298.82 195.12 298.73 195.37 298.65 195.62 298.57 195.87 298.48 196.12 298.4 196.37 298.32 196.62 298.25 196.87 298.18 197.12 298.11 197.37 298.06 197.62 298.02 197.87 297.98 198.12 297.96 198.37 297.95 198.62 297.95 198.87 297.97 199.12 297.99 199.37 298.01 199.62 298.05 199.87 298.09 200.12 298.13 200.37 298.18 200.62 298.23 200.87 298.29 201.12 298.35 201.37 298.41 201.62 298.47 201.87 298.54 202.12 298.6 202.37 298.66 202.62 298.72 202.87 298.78 203.12 298.84 203.37 298.89 203.62 298.94 203.87 298.98 204.12 299.02 204.37 299.05 204.62 299.09 204.87 299.12 205.12 299.14 205.37 299.17 205.62 299.2 205.87 299.22 206.12 299.24 206.37 299.27 206.62 299.29 206.87 299.31 207.12 299.33 207.37 299.34 207.62 299.36 207.87 299.38 208.12 299.4 208.37 299.42 208.62 299.43 208.87 299.45 209.12 299.47 209.37 299.49 209.62 299.51 209.87 299.53 210.12 299.54 210.37 299.56 210.62 299.58 210.87 299.59 211.12 299.61 211.37 299.62 211.62 299.64 211.87 299.65 212.12 299.66 212.37 299.68 212.62 299.69" fill="none" stroke="#111111" stroke-width="1.35" stroke-linejoin="round"/>
<line x1="33.21" y1="328" x2="33.21" y2="325.9" stroke="#333" stroke-width="0.9"/>
<line x1="55.72" y1="328" x2="55.72" y2="324.2" stroke="#333" stroke-width="0.9"/>
<line x1="78.23" y1="328" x2="78.23" y2="325.9" stroke="#333" stroke-width="0.9"/>
<line x1="100.74" y1="328" x2="100.74" y2="324.2" stroke="#333" stroke-width="0.9"/>
<line x1="123.25" y1="328" x2="123.25" y2="325.9" stroke="#333" stroke-width="0.9"/>
<line x1="145.76" y1="328" x2="145.76" y2="324.2" stroke="#333" stroke-width="0.9"/>
<line x1="168.27" y1="328" x2="168.27" y2="325.9" stroke="#333" stroke-width="0.9"/>
<line x1="190.78" y1="328" x2="190.78" y2="324.2" stroke="#333" stroke-width="0.9"/>
<rect x="11.2" y="267" width="74.3" height="12.6" fill="#fff" stroke="#999" stroke-width="0.8"/>
<line x1="15.3" y1="273.8" x2="39.5" y2="273.8" stroke="#111111" stroke-width="1.5"/>
<text x="41.9" y="277.4" font-size="10.5" fill="#151515">d28 NTN</text>
<line x1="10.7" y1="328" x2="213.3" y2="328" stroke="#333" stroke-width="1.1"/>
<rect x="10.7" y="20" width="202.6" height="308" fill="none" stroke="#333" stroke-width="1.2"/>
<text x="10.9" y="339" font-size="8.4" fill="#151515" text-anchor="middle">1800</text>
<text x="55.92" y="339" font-size="8.4" fill="#151515" text-anchor="middle">1600</text>
<text x="100.94" y="339" font-size="8.4" fill="#151515" text-anchor="middle">1400</text>
<text x="145.96" y="339" font-size="8.4" fill="#151515" text-anchor="middle">1200</text>
<text x="190.98" y="339" font-size="8.4" fill="#151515" text-anchor="middle">1000</text>
<text x="66.6" y="356.7" font-size="10.5" fill="#151515">Wavenumber (cm<tspan font-size="7" dy="-4">-1</tspan><tspan dy="4">)</tspan></text>
<text x="302.7" y="43.6" font-size="14.6" fill="#151515">(b)</text>
<defs><clipPath id="cb"><rect x="303.7" y="56.5" width="358.8" height="265.9"/></clipPath></defs>
<g clip-path="url(#cb)" fill="none" stroke-linejoin="round">
<path d="M303.9 168.8C305.23 168.6 306.57 168.2 307.9 168.2C310.13 168.2 312.37 173.9 314.6 173.9C317.4 173.9 320.2 153 323 153C325.33 153 327.67 193 330 193C333.57 193 337.13 119 340.7 119C342.57 119 344.43 137.58 346.3 150C348.17 162.42 350.03 176.32 351.9 193.5C353.13 204.85 354.37 221.59 355.6 235.6C356.7 248.09 357.8 273 358.9 273C360.33 273 361.77 237.88 363.2 205C364.6 172.88 366 78 367.4 78C368.8 78 370.2 120.53 371.6 150C372.73 173.86 373.87 238 375 238C376.53 238 378.07 213.63 379.6 205C380.57 199.56 381.53 199.19 382.5 195.8C383.43 192.53 384.37 188.59 385.3 185C386.6 179.99 387.9 173.34 389.2 170C391.6 163.84 394 159.53 396.4 156.5C397.83 154.69 399.27 155.5 400.7 155.5C402.17 155.5 403.63 158.04 405.1 159C406.17 159.7 407.23 160.5 408.3 160.5C409.7 160.5 411.1 159.5 412.5 159.5C413.97 159.5 415.43 160.3 416.9 160.3C418.5 160.3 420.1 153.7 421.7 153.7C422.67 153.7 423.63 156.5 424.6 156.5C426.5 156.5 428.4 148 430.3 148C431.9 148 433.5 153.45 435.1 163C437.67 178.32 440.23 222.6 442.8 222.6C444.7 222.6 446.6 201.41 448.5 188C449.93 177.88 451.37 152 452.8 152C454.57 152 456.33 154.98 458.1 158C460.7 162.45 463.3 174.4 465.9 174.4C467.4 174.4 468.9 168.24 470.4 166C471.87 163.81 473.33 161.1 474.8 161.1C476.3 161.1 477.8 161.09 479.3 163C481.5 165.79 483.7 175.2 485.9 175.2C488.13 175.2 490.37 163 492.6 163C494.07 163 495.53 167.99 497 170C498.5 172.06 500 175.2 501.5 175.2C503.47 175.2 505.43 171.04 507.4 170C508.9 169.21 510.4 169.92 511.9 169.7C513.87 169.42 515.83 168.5 517.8 168.5C519.27 168.5 520.73 170.5 522.2 170.5C523.6 170.5 525 170.5 526.4 170.5C527.97 170.5 529.53 170.2 531.1 169.3C533.07 168.17 535.03 164.4 537 164.4C539.47 164.4 541.93 164.44 544.4 165.6C545.9 166.31 547.4 167.86 548.9 170C551.37 173.52 553.83 182.6 556.3 182.6C557.87 182.6 559.43 175.3 561 172.7C562.97 169.43 564.93 165 566.9 165C568.6 165 570.3 168.97 572 170.1C573.7 171.23 575.4 171.8 577.1 171.8C579.97 171.8 582.83 166.7 585.7 166.7C588.23 166.7 590.77 175 593.3 175C595 175 596.7 168.4 598.4 168.4C600.4 168.4 602.4 170 604.4 170C606.1 170 607.8 165.9 609.5 165.9C610.93 165.9 612.37 170 613.8 170C615.5 170 617.2 167.6 618.9 167.6C621.47 167.6 624.03 175 626.6 175C630 175 633.4 166.2 636.8 166.2C640.2 166.2 643.6 170.43 647 171.8C650.4 173.17 653.8 173.62 657.2 174.4C658.9 174.79 660.6 175 662.3 175.3" stroke="#DD9D4A" stroke-width="1.3"/>
<path d="M303.9 168.8C305.23 168.6 306.57 168.2 307.9 168.2C310.13 168.2 312.37 173.9 314.6 173.9C317.4 173.9 320.2 150 323 150C325.33 150 327.67 196 330 196C333.57 196 337.13 105 340.7 105C342.57 105 344.43 131.05 346.3 145.8C348.17 160.55 350.03 175.48 351.9 193.5C353.13 205.41 354.37 220.89 355.6 235.6C356.7 248.72 357.8 277 358.9 277C360.33 277 361.77 242.95 363.2 210.4C364.6 178.61 366 84 367.4 84C368.8 84 370.2 126.02 371.6 154.2C372.73 177.02 373.87 237 375 237C376.53 237 378.07 207.04 379.6 195.8C380.57 188.71 381.53 185.73 382.5 182C383.43 178.4 384.37 176.17 385.3 173.8C386.6 170.5 387.9 168.26 389.2 165C391.6 158.99 394 146 396.4 146C397.83 146 399.27 146.35 400.7 153.6C402.17 161.02 403.63 190 405.1 190C406.17 190 407.23 181.19 408.3 176C409.7 169.19 411.1 154 412.5 154C413.97 154 415.43 162 416.9 162C418.5 162 420.1 153.14 421.7 150C422.67 148.1 423.63 147.46 424.6 146.9C426.5 145.8 428.4 145 430.3 145C431.9 145 433.5 151.57 435.1 161.3C437.67 176.91 440.23 221 442.8 221C444.7 221 446.6 199.44 448.5 186.2C449.93 176.21 451.37 151.3 452.8 151.3C454.57 151.3 456.33 157.02 458.1 161.3C460.7 167.59 463.3 183 465.9 183C467.4 183 468.9 173.05 470.4 168.5C471.87 164.05 473.33 156 474.8 156C476.3 156 477.8 159.01 479.3 161.9C481.5 166.14 483.7 177.4 485.9 177.4C488.13 177.4 490.37 161.9 492.6 161.9C494.07 161.9 495.53 167.81 497 170C498.5 172.24 500 175.2 501.5 175.2C503.47 175.2 505.43 171.04 507.4 170C508.9 169.21 510.4 169.92 511.9 169.7C513.87 169.42 515.83 168.5 517.8 168.5C519.27 168.5 520.73 171.06 522.2 172.2C523.6 173.29 525 175.2 526.4 175.2C527.97 175.2 529.53 170.9 531.1 169.3C533.07 167.3 535.03 164.4 537 164.4C539.47 164.4 541.93 164.44 544.4 165.6C545.9 166.31 547.4 167.86 548.9 170C551.37 173.52 553.83 182.6 556.3 182.6C557.87 182.6 559.43 175.3 561 172.7C562.97 169.43 564.93 165 566.9 165C568.6 165 570.3 168.97 572 170.1C573.7 171.23 575.4 171.8 577.1 171.8C579.97 171.8 582.83 166.7 585.7 166.7C588.23 166.7 590.77 177.8 593.3 177.8C595 177.8 596.7 168.4 598.4 168.4C600.4 168.4 602.4 171.8 604.4 171.8C606.1 171.8 607.8 169.6 609.5 169.6C610.93 169.6 612.37 171.8 613.8 171.8C615.5 171.8 617.2 167.6 618.9 167.6C621.47 167.6 624.03 173 626.6 173C630 173 633.4 166.2 636.8 166.2C640.2 166.2 643.6 170.43 647 171.8C650.4 173.17 653.8 173.62 657.2 174.4C658.9 174.79 660.6 175 662.3 175.3" stroke="#B8282C" stroke-width="1.4"/>
<path d="M303.9 168.8C305.23 168.6 306.57 168.2 307.9 168.2C310.13 168.2 312.37 173.9 314.6 173.9C317.4 173.9 320.2 145 323 145C325.33 145 327.67 204 330 204C333.57 204 337.13 103 340.7 103C342.57 103 344.43 130.72 346.3 145.8C348.17 160.88 350.03 175.48 351.9 193.5C353.13 205.41 354.37 220.62 355.6 235.6C356.7 248.96 357.8 278.5 358.9 278.5C360.33 278.5 361.77 243.2 363.2 210.4C364.6 178.36 366 84 367.4 84C368.8 84 370.2 125.28 371.6 154.2C372.73 177.61 373.87 241 375 241C376.53 241 378.07 208.07 379.6 195.8C380.57 188.07 381.53 184.73 382.5 181C383.43 177.4 384.37 176.31 385.3 173.8C386.6 170.31 387.9 166.67 389.2 163C391.6 156.23 394 142.5 396.4 142.5C397.83 142.5 399.27 144.51 400.7 153.6C402.17 162.91 403.63 197.7 405.1 197.7C406.17 197.7 407.23 184.49 408.3 178C409.7 169.49 411.1 152.7 412.5 152.7C413.97 152.7 415.43 162.3 416.9 162.3C418.5 162.3 420.1 146.9 421.7 146.9C422.67 146.9 423.63 146.9 424.6 146.9C426.5 146.9 428.4 142.1 430.3 142.1C431.9 142.1 433.5 151.46 435.1 161.3C437.67 177.09 440.23 219 442.8 219C444.7 219 446.6 199.06 448.5 186.2C449.93 176.5 451.37 151.3 452.8 151.3C454.57 151.3 456.33 157.29 458.1 161.3C460.7 167.19 463.3 181 465.9 181C467.4 181 468.9 172.98 470.4 168.5C471.87 164.12 473.33 154.4 474.8 154.4C476.3 154.4 477.8 158.58 479.3 161.9C481.5 166.78 483.7 179 485.9 179C488.13 179 490.37 161.9 492.6 161.9C494.07 161.9 495.53 167.51 497 170C498.5 172.54 500 177 501.5 177C503.47 177 505.43 171.38 507.4 170C508.9 168.95 510.4 169.92 511.9 169.7C513.87 169.42 515.83 168.5 517.8 168.5C519.27 168.5 520.73 171.06 522.2 172.2C523.6 173.29 525 175.2 526.4 175.2C527.97 175.2 529.53 170.9 531.1 169.3C533.07 167.3 535.03 164.4 537 164.4C539.47 164.4 541.93 164.44 544.4 165.6C545.9 166.31 547.4 167.86 548.9 170C551.37 173.52 553.83 182.6 556.3 182.6C557.87 182.6 559.43 175.3 561 172.7C562.97 169.43 564.93 165 566.9 165C568.6 165 570.3 168.97 572 170.1C573.7 171.23 575.4 171.8 577.1 171.8C579.97 171.8 582.83 166.7 585.7 166.7C588.23 166.7 590.77 177.8 593.3 177.8C595 177.8 596.7 168.4 598.4 168.4C600.4 168.4 602.4 171.8 604.4 171.8C606.1 171.8 607.8 169.6 609.5 169.6C610.93 169.6 612.37 171.8 613.8 171.8C615.5 171.8 617.2 167.6 618.9 167.6C621.47 167.6 624.03 173 626.6 173C630 173 633.4 166.2 636.8 166.2C640.2 166.2 643.6 170.43 647 171.8C650.4 173.17 653.8 173.62 657.2 174.4C658.9 174.79 660.6 175 662.3 175.3" stroke="#CC46CC" stroke-width="1.6"/>
<path d="M303.9 168.8C305.23 168.6 306.57 168.2 307.9 168.2C310.13 168.2 312.37 173.9 314.6 173.9C317.4 173.9 320.2 149 323 149C325.33 149 327.67 197 330 197C333.57 197 337.13 104 340.7 104C342.57 104 344.43 130.88 346.3 145.8C348.17 160.72 350.03 175.48 351.9 193.5C353.13 205.41 354.37 220.1 355.6 235.6C356.7 249.43 357.8 281.5 358.9 281.5C360.33 281.5 361.77 243.03 363.2 210.4C364.6 178.53 366 88 367.4 88C368.8 88 370.2 126.94 371.6 154.2C372.73 176.27 373.87 236 375 236C376.53 236 378.07 207.94 379.6 195.8C380.57 188.14 381.53 180.33 382.5 176.6C383.43 173 384.37 176.2 385.3 173.8C386.6 170.46 387.9 163.36 389.2 159.4C391.6 152.09 394 140 396.4 140C397.83 140 399.27 142.68 400.7 153.6C402.17 164.78 403.63 206.3 405.1 206.3C406.17 206.3 407.23 188.47 408.3 180.5C409.7 170.04 411.1 151 412.5 151C413.97 151 415.43 162.3 416.9 162.3C418.5 162.3 420.1 146.9 421.7 146.9C422.67 146.9 423.63 146.9 424.6 146.9C426.5 146.9 428.4 142.1 430.3 142.1C431.9 142.1 433.5 151.46 435.1 161.3C437.67 177.09 440.23 219 442.8 219C444.7 219 446.6 199.06 448.5 186.2C449.93 176.5 451.37 151.3 452.8 151.3C454.57 151.3 456.33 156.67 458.1 161.3C460.7 168.11 463.3 185.6 465.9 185.6C467.4 185.6 468.9 173.76 470.4 168.5C471.87 163.36 473.33 154.4 474.8 154.4C476.3 154.4 477.8 158.71 479.3 161.9C481.5 166.58 483.7 178 485.9 178C488.13 178 490.37 161.9 492.6 161.9C494.07 161.9 495.53 167.81 497 170C498.5 172.24 500 175.2 501.5 175.2C503.47 175.2 505.43 171.04 507.4 170C508.9 169.21 510.4 169.92 511.9 169.7C513.87 169.42 515.83 168.5 517.8 168.5C519.27 168.5 520.73 171.06 522.2 172.2C523.6 173.29 525 175.2 526.4 175.2C527.97 175.2 529.53 170.9 531.1 169.3C533.07 167.3 535.03 164.4 537 164.4C539.47 164.4 541.93 164.44 544.4 165.6C545.9 166.31 547.4 167.86 548.9 170C551.37 173.52 553.83 182.6 556.3 182.6C557.87 182.6 559.43 175.3 561 172.7C562.97 169.43 564.93 165 566.9 165C568.6 165 570.3 168.97 572 170.1C573.7 171.23 575.4 171.8 577.1 171.8C579.97 171.8 582.83 166.7 585.7 166.7C588.23 166.7 590.77 177.8 593.3 177.8C595 177.8 596.7 167.5 598.4 167.5C600.4 167.5 602.4 175.3 604.4 175.3C606.1 175.3 607.8 169.6 609.5 169.6C610.93 169.6 612.37 171.8 613.8 171.8C615.5 171.8 617.2 167.6 618.9 167.6C621.47 167.6 624.03 173 626.6 173C630 173 633.4 166.2 636.8 166.2C640.2 166.2 643.6 170.43 647 171.8C650.4 173.17 653.8 173.62 657.2 174.4C658.9 174.79 660.6 175 662.3 175.3" stroke="#3232A2" stroke-width="1.6"/>
<path d="M303.9 168.8C305.23 168.6 306.57 168.2 307.9 168.2C310.13 168.2 312.37 173.9 314.6 173.9C317.4 173.9 320.2 151.4 323 151.4C325.33 151.4 327.67 194.9 330 194.9C333.57 194.9 337.13 106.5 340.7 106.5C342.57 106.5 344.43 131.3 346.3 145.8C348.17 160.3 350.03 175.48 351.9 193.5C353.13 205.41 354.37 221.15 355.6 235.6C356.7 248.49 357.8 275.5 358.9 275.5C360.33 275.5 361.77 242.22 363.2 210.4C364.6 179.32 366 86.8 367.4 86.8C368.8 86.8 370.2 126.9 371.6 154.2C372.73 176.3 373.87 235 375 235C376.53 235 378.07 207.74 379.6 195.8C380.57 188.27 381.53 180.33 382.5 176.6C383.43 173 384.37 176.2 385.3 173.8C386.6 170.46 387.9 163.44 389.2 159.4C391.6 151.94 394 139.3 396.4 139.3C397.83 139.3 399.27 142.87 400.7 153.6C402.17 164.57 403.63 204.4 405.1 204.4C406.17 204.4 407.23 187.95 408.3 180.5C409.7 170.72 411.1 152.7 412.5 152.7C413.97 152.7 415.43 162.3 416.9 162.3C418.5 162.3 420.1 146.9 421.7 146.9C422.67 146.9 423.63 146.9 424.6 146.9C426.5 146.9 428.4 142.1 430.3 142.1C431.9 142.1 433.5 151.24 435.1 161.3C437.67 177.44 440.23 220.7 442.8 220.7C444.7 220.7 446.6 199.39 448.5 186.2C449.93 176.25 451.37 151.3 452.8 151.3C454.57 151.3 456.33 156.67 458.1 161.3C460.7 168.11 463.3 185.6 465.9 185.6C467.4 185.6 468.9 173.13 470.4 168.5C471.87 163.97 473.33 158.1 474.8 158.1C476.3 158.1 477.8 159.29 479.3 161.9C481.5 165.73 483.7 177.4 485.9 177.4C488.13 177.4 490.37 161.9 492.6 161.9C494.07 161.9 495.53 167.81 497 170C498.5 172.24 500 175.2 501.5 175.2C503.47 175.2 505.43 171.04 507.4 170C508.9 169.21 510.4 169.92 511.9 169.7C513.87 169.42 515.83 168.5 517.8 168.5C519.27 168.5 520.73 171.06 522.2 172.2C523.6 173.29 525 175.2 526.4 175.2C527.97 175.2 529.53 170.9 531.1 169.3C533.07 167.3 535.03 164.4 537 164.4C539.47 164.4 541.93 164.44 544.4 165.6C545.9 166.31 547.4 167.86 548.9 170C551.37 173.52 553.83 182.6 556.3 182.6C557.87 182.6 559.43 175.3 561 172.7C562.97 169.43 564.93 165 566.9 165C568.6 165 570.3 168.97 572 170.1C573.7 171.23 575.4 171.8 577.1 171.8C579.97 171.8 582.83 166.7 585.7 166.7C588.23 166.7 590.77 177.8 593.3 177.8C595 177.8 596.7 168.4 598.4 168.4C600.4 168.4 602.4 171.8 604.4 171.8C606.1 171.8 607.8 169.6 609.5 169.6C610.93 169.6 612.37 171.8 613.8 171.8C615.5 171.8 617.2 167.6 618.9 167.6C621.47 167.6 624.03 173 626.6 173C630 173 633.4 166.2 636.8 166.2C640.2 166.2 643.6 170.43 647 171.8C650.4 173.17 653.8 173.62 657.2 174.4C658.9 174.79 660.6 175 662.3 175.3" stroke="#111111" stroke-width="1.55"/>
</g>
<line x1="355.5" y1="252" x2="355.5" y2="298.5" stroke="#666" stroke-width="0.9" stroke-dasharray="1.4 1.9"/>
<line x1="405.3" y1="210.5" x2="405.3" y2="237.5" stroke="#666" stroke-width="0.9" stroke-dasharray="1.4 1.9"/>
<line x1="526.4" y1="178" x2="526.4" y2="206" stroke="#666" stroke-width="0.9" stroke-dasharray="1.4 1.9"/>
<line x1="579.6" y1="151.4" x2="579.6" y2="168.4" stroke="#666" stroke-width="0.9" stroke-dasharray="1.4 1.9"/>
<line x1="609.6" y1="145.4" x2="609.6" y2="165.9" stroke="#666" stroke-width="0.9" stroke-dasharray="1.4 1.9"/>
<text x="343.2" y="309.7" font-size="11.4" fill="#151515">1668 cm<tspan font-size="6.4" dy="-5.2" dx="-0.3">-1</tspan></text>
<text x="388.6" y="251" font-size="11.4" fill="#151515">1545 cm<tspan font-size="6.4" dy="-5.2" dx="-0.3">-1</tspan></text>
<text x="513.6" y="218.8" font-size="11.4" fill="#151515">1242 cm<tspan font-size="6.4" dy="-5.2" dx="-0.3">-1</tspan></text>
<text x="532.9" y="144.2" font-size="11.4" fill="#151515">1107 cm<tspan font-size="6.4" dy="-5.2" dx="-0.3">-1</tspan></text>
<text x="596.5" y="139.6" font-size="11.4" fill="#151515">1033 cm<tspan font-size="6.4" dy="-5.2" dx="-0.3">-1</tspan></text>
<rect x="303.7" y="56.5" width="358.8" height="265.9" fill="none" stroke="#111" stroke-width="1.15"/>
<line x1="303.7" y1="322.4" x2="303.7" y2="327.9" stroke="#222" stroke-width="1.1"/>
<text x="303.9" y="339.9" font-size="11" fill="#151515" text-anchor="middle">1800</text>
<line x1="343.57" y1="322.4" x2="343.57" y2="327.9" stroke="#222" stroke-width="1.1"/>
<text x="343.77" y="339.9" font-size="11" fill="#151515" text-anchor="middle">1700</text>
<line x1="383.43" y1="322.4" x2="383.43" y2="327.9" stroke="#222" stroke-width="1.1"/>
<text x="383.63" y="339.9" font-size="11" fill="#151515" text-anchor="middle">1600</text>
<line x1="423.3" y1="322.4" x2="423.3" y2="327.9" stroke="#222" stroke-width="1.1"/>
<text x="423.5" y="339.9" font-size="11" fill="#151515" text-anchor="middle">1500</text>
<line x1="463.17" y1="322.4" x2="463.17" y2="327.9" stroke="#222" stroke-width="1.1"/>
<text x="463.37" y="339.9" font-size="11" fill="#151515" text-anchor="middle">1400</text>
<line x1="503.03" y1="322.4" x2="503.03" y2="327.9" stroke="#222" stroke-width="1.1"/>
<text x="503.23" y="339.9" font-size="11" fill="#151515" text-anchor="middle">1300</text>
<line x1="542.9" y1="322.4" x2="542.9" y2="327.9" stroke="#222" stroke-width="1.1"/>
<text x="543.1" y="339.9" font-size="11" fill="#151515" text-anchor="middle">1200</text>
<line x1="582.77" y1="322.4" x2="582.77" y2="327.9" stroke="#222" stroke-width="1.1"/>
<text x="582.97" y="339.9" font-size="11" fill="#151515" text-anchor="middle">1100</text>
<line x1="622.63" y1="322.4" x2="622.63" y2="327.9" stroke="#222" stroke-width="1.1"/>
<text x="622.83" y="339.9" font-size="11" fill="#151515" text-anchor="middle">1000</text>
<line x1="662.5" y1="322.4" x2="662.5" y2="327.9" stroke="#222" stroke-width="1.1"/>
<text x="662.7" y="339.9" font-size="11" fill="#151515" text-anchor="middle">900</text>
<text x="423.3" y="371" font-size="13.85" fill="#151515">Wavenumber (cm<tspan font-size="8.5" dy="-5.6">-1</tspan><tspan dy="5.5">)</tspan></text>
<rect x="584.7" y="260.2" width="70.6" height="55.5" fill="#fff" stroke="#999" stroke-width="0.8"/>
<line x1="589.5" y1="267.2" x2="609.2" y2="267.2" stroke="#DD9D4A" stroke-width="1.3"/>
<text x="611.6" y="270.4" font-size="9" fill="#151515">Normal</text>
<line x1="589.5" y1="278.05" x2="609.2" y2="278.05" stroke="#B8282C" stroke-width="1.3"/>
<text x="611.6" y="281.25" font-size="9" fill="#151515">d8 NTN</text>
<line x1="589.5" y1="288.9" x2="609.2" y2="288.9" stroke="#CC46CC" stroke-width="1.3"/>
<text x="611.6" y="292.1" font-size="9" fill="#151515">d14 NTN</text>
<line x1="589.5" y1="299.75" x2="609.2" y2="299.75" stroke="#3232A2" stroke-width="1.3"/>
<text x="611.6" y="302.95" font-size="9" fill="#151515">d21 NTN</text>
<line x1="589.5" y1="310.6" x2="609.2" y2="310.6" stroke="#111111" stroke-width="1.3"/>
<text x="611.6" y="313.8" font-size="9" fill="#151515">d28 NTN</text>
<text x="22.5" y="407.8" font-size="18" fill="#151515">(c)</text>
<rect x="75.5" y="426.9" width="388.1" height="305.8" fill="none" stroke="#111" stroke-width="1.35"/>
<line x1="221" y1="426.9" x2="221" y2="732.7" stroke="#111" stroke-width="1.45"/>
<line x1="75.5" y1="579.6" x2="463.6" y2="579.6" stroke="#111" stroke-width="1.35"/>
<line x1="75.27" y1="732.7" x2="75.27" y2="738.7" stroke="#111" stroke-width="1.35"/>
<text x="75.57" y="753.6" font-size="12.7" fill="#151515" text-anchor="middle">-3</text>
<line x1="123.85" y1="732.7" x2="123.85" y2="738.7" stroke="#111" stroke-width="1.35"/>
<text x="124.15" y="753.6" font-size="12.7" fill="#151515" text-anchor="middle">-2</text>
<line x1="172.43" y1="732.7" x2="172.43" y2="738.7" stroke="#111" stroke-width="1.35"/>
<text x="172.73" y="753.6" font-size="12.7" fill="#151515" text-anchor="middle">-1</text>
<line x1="221" y1="732.7" x2="221" y2="738.7" stroke="#111" stroke-width="1.35"/>
<text x="221.3" y="753.6" font-size="12.7" fill="#151515" text-anchor="middle">0</text>
<line x1="269.57" y1="732.7" x2="269.57" y2="738.7" stroke="#111" stroke-width="1.35"/>
<text x="269.88" y="753.6" font-size="12.7" fill="#151515" text-anchor="middle">1</text>
<line x1="318.15" y1="732.7" x2="318.15" y2="738.7" stroke="#111" stroke-width="1.35"/>
<text x="318.45" y="753.6" font-size="12.7" fill="#151515" text-anchor="middle">2</text>
<line x1="366.73" y1="732.7" x2="366.73" y2="738.7" stroke="#111" stroke-width="1.35"/>
<text x="367.03" y="753.6" font-size="12.7" fill="#151515" text-anchor="middle">3</text>
<line x1="415.3" y1="732.7" x2="415.3" y2="738.7" stroke="#111" stroke-width="1.35"/>
<text x="415.6" y="753.6" font-size="12.7" fill="#151515" text-anchor="middle">4</text>
<line x1="463.88" y1="732.7" x2="463.88" y2="738.7" stroke="#111" stroke-width="1.35"/>
<text x="464.18" y="753.6" font-size="12.7" fill="#151515" text-anchor="middle">5</text>
<line x1="69.5" y1="732.44" x2="75.5" y2="732.44" stroke="#111" stroke-width="1.35"/>
<text x="64.9" y="736.94" font-size="12.7" fill="#151515" text-anchor="end">-4</text>
<line x1="69.5" y1="694.23" x2="75.5" y2="694.23" stroke="#111" stroke-width="1.35"/>
<text x="64.9" y="698.73" font-size="12.7" fill="#151515" text-anchor="end">-3</text>
<line x1="69.5" y1="656.02" x2="75.5" y2="656.02" stroke="#111" stroke-width="1.35"/>
<text x="64.9" y="660.52" font-size="12.7" fill="#151515" text-anchor="end">-2</text>
<line x1="69.5" y1="617.81" x2="75.5" y2="617.81" stroke="#111" stroke-width="1.35"/>
<text x="64.9" y="622.31" font-size="12.7" fill="#151515" text-anchor="end">-1</text>
<line x1="69.5" y1="579.6" x2="75.5" y2="579.6" stroke="#111" stroke-width="1.35"/>
<text x="64.9" y="584.1" font-size="12.7" fill="#151515" text-anchor="end">0</text>
<line x1="69.5" y1="541.39" x2="75.5" y2="541.39" stroke="#111" stroke-width="1.35"/>
<text x="64.9" y="545.89" font-size="12.7" fill="#151515" text-anchor="end">1</text>
<line x1="69.5" y1="503.18" x2="75.5" y2="503.18" stroke="#111" stroke-width="1.35"/>
<text x="64.9" y="507.68" font-size="12.7" fill="#151515" text-anchor="end">2</text>
<line x1="69.5" y1="464.97" x2="75.5" y2="464.97" stroke="#111" stroke-width="1.35"/>
<text x="64.9" y="469.47" font-size="12.7" fill="#151515" text-anchor="end">3</text>
<line x1="69.5" y1="426.76" x2="75.5" y2="426.76" stroke="#111" stroke-width="1.35"/>
<text x="64.9" y="431.26" font-size="12.7" fill="#151515" text-anchor="end">4</text>
<text x="167" y="777" font-size="14.8" fill="#151515">Principal Component 1 (46.6%)</text>
<text transform="translate(36 569.6) rotate(-90)" font-size="14.75" fill="#151515" text-anchor="middle">Principal Component 2 (29.1%)</text>
<line x1="221" y1="579.6" x2="283.6" y2="482.6" stroke="#3a3a74" stroke-width="1.1"/>
<line x1="221" y1="579.6" x2="260.6" y2="509.6" stroke="#3a3a74" stroke-width="1.1"/>
<line x1="221" y1="579.6" x2="133.1" y2="509.5" stroke="#3a3a74" stroke-width="1.1"/>
<line x1="221" y1="579.6" x2="330.8" y2="624.8" stroke="#3a3a74" stroke-width="1.1"/>
<line x1="221" y1="579.6" x2="330" y2="636.8" stroke="#3a3a74" stroke-width="1.1"/>
<text x="268.1" y="457.2" font-size="13.25" fill="#2525a0">1107 cm-1 peak</text>
<text x="221" y="476" font-size="13.25" fill="#2525a0">1668 cm-1 peak</text>
<text x="96.5" y="502.2" font-size="13.25" fill="#2525a0">1033 cm-1 peak</text>
<text x="333" y="625.1" font-size="13.25" fill="#2525a0">1242 cm-1 peak</text>
<text x="333" y="651.8" font-size="13.25" fill="#2525a0">1545 cm-1 peak</text>
<circle cx="185" cy="535.2" r="2.9" fill="#F07A1E"/>
<circle cx="180.2" cy="536.6" r="2.9" fill="#F07A1E"/>
<circle cx="171.9" cy="542.2" r="2.9" fill="#F07A1E"/>
<circle cx="174.6" cy="549.7" r="2.9" fill="#F07A1E"/>
<circle cx="180.2" cy="555.9" r="2.9" fill="#F07A1E"/>
<circle cx="201.4" cy="549.1" r="2.9" fill="#F07A1E"/>
<circle cx="207.4" cy="547.4" r="2.9" fill="#F07A1E"/>
<circle cx="131.3" cy="550.3" r="2.9" fill="#F07A1E"/>
<circle cx="122.8" cy="558.2" r="2.9" fill="#F07A1E"/>
<circle cx="146" cy="559.2" r="2.9" fill="#F07A1E"/>
<circle cx="156.8" cy="556.3" r="2.9" fill="#F07A1E"/>
<circle cx="160.1" cy="557.2" r="2.9" fill="#F07A1E"/>
<circle cx="162.6" cy="557.8" r="2.9" fill="#F07A1E"/>
<circle cx="165.9" cy="559.4" r="2.9" fill="#F07A1E"/>
<circle cx="174.2" cy="565.9" r="2.9" fill="#F07A1E"/>
<circle cx="150.6" cy="574.6" r="2.9" fill="#F07A1E"/>
<circle cx="156.8" cy="577.1" r="2.9" fill="#F07A1E"/>
<circle cx="156.8" cy="579.1" r="2.9" fill="#F07A1E"/>
<circle cx="164" cy="574.2" r="2.9" fill="#F07A1E"/>
<circle cx="165.9" cy="572.1" r="2.9" fill="#F07A1E"/>
<circle cx="168.8" cy="575.4" r="2.9" fill="#F07A1E"/>
<circle cx="168.8" cy="583.3" r="2.9" fill="#F07A1E"/>
<circle cx="177.1" cy="581.6" r="2.9" fill="#F07A1E"/>
<circle cx="182.3" cy="582.7" r="2.9" fill="#F07A1E"/>
<circle cx="129.6" cy="588.7" r="2.9" fill="#F07A1E"/>
<circle cx="154.7" cy="587.2" r="2.9" fill="#F07A1E"/>
<circle cx="164" cy="593.7" r="2.9" fill="#F07A1E"/>
<circle cx="177.7" cy="591" r="2.9" fill="#F07A1E"/>
<circle cx="170.9" cy="596.6" r="2.9" fill="#F07A1E"/>
<circle cx="110.1" cy="596.6" r="2.9" fill="#F07A1E"/>
<circle cx="165.9" cy="606.9" r="2.9" fill="#F07A1E"/>
<circle cx="293" cy="496.8" r="2.9" fill="#F07A1E"/>
<circle cx="267.1" cy="512.9" r="2.9" fill="#F07A1E"/>
<circle cx="254" cy="529" r="2.9" fill="#F07A1E"/>
<circle cx="430.2" cy="465.6" r="2.65" fill="#000"/>
<circle cx="342.3" cy="495.9" r="2.65" fill="#000"/>
<circle cx="434.8" cy="515.4" r="2.65" fill="#000"/>
<circle cx="360.1" cy="553.2" r="2.65" fill="#000"/>
<circle cx="332.3" cy="563.5" r="2.65" fill="#000"/>
<circle cx="366" cy="575.1" r="2.65" fill="#000"/>
<circle cx="348.5" cy="577.6" r="2.65" fill="#000"/>
<circle cx="270.8" cy="622" r="2.65" fill="#000"/>
<circle cx="273.6" cy="629.2" r="2.65" fill="#000"/>
<circle cx="230.8" cy="678" r="2.65" fill="#000"/>
<circle cx="248" cy="672.4" r="2.65" fill="#000"/>
<circle cx="269.2" cy="678" r="2.65" fill="#000"/>
<circle cx="280" cy="673.2" r="2.65" fill="#000"/>
<circle cx="285.6" cy="674.4" r="2.65" fill="#000"/>
<circle cx="295.2" cy="673.6" r="2.65" fill="#000"/>
<circle cx="305.6" cy="662" r="2.65" fill="#000"/>
<circle cx="324" cy="683.2" r="2.65" fill="#000"/>
<rect x="76.4" y="685.4" width="95.4" height="47.3" fill="#fff" stroke="#111" stroke-width="1.1"/>
<circle cx="86.3" cy="692.7" r="4.1" fill="#F07A1E"/>
<circle cx="87.3" cy="718.7" r="3.5" fill="#000"/>
<text x="98.5" y="697.6" font-size="12.3" fill="#151515">Normal rat</text>
<text x="99.5" y="722.7" font-size="12.3" fill="#151515">d28 NTN rat</text>
</svg>
</body></html>
